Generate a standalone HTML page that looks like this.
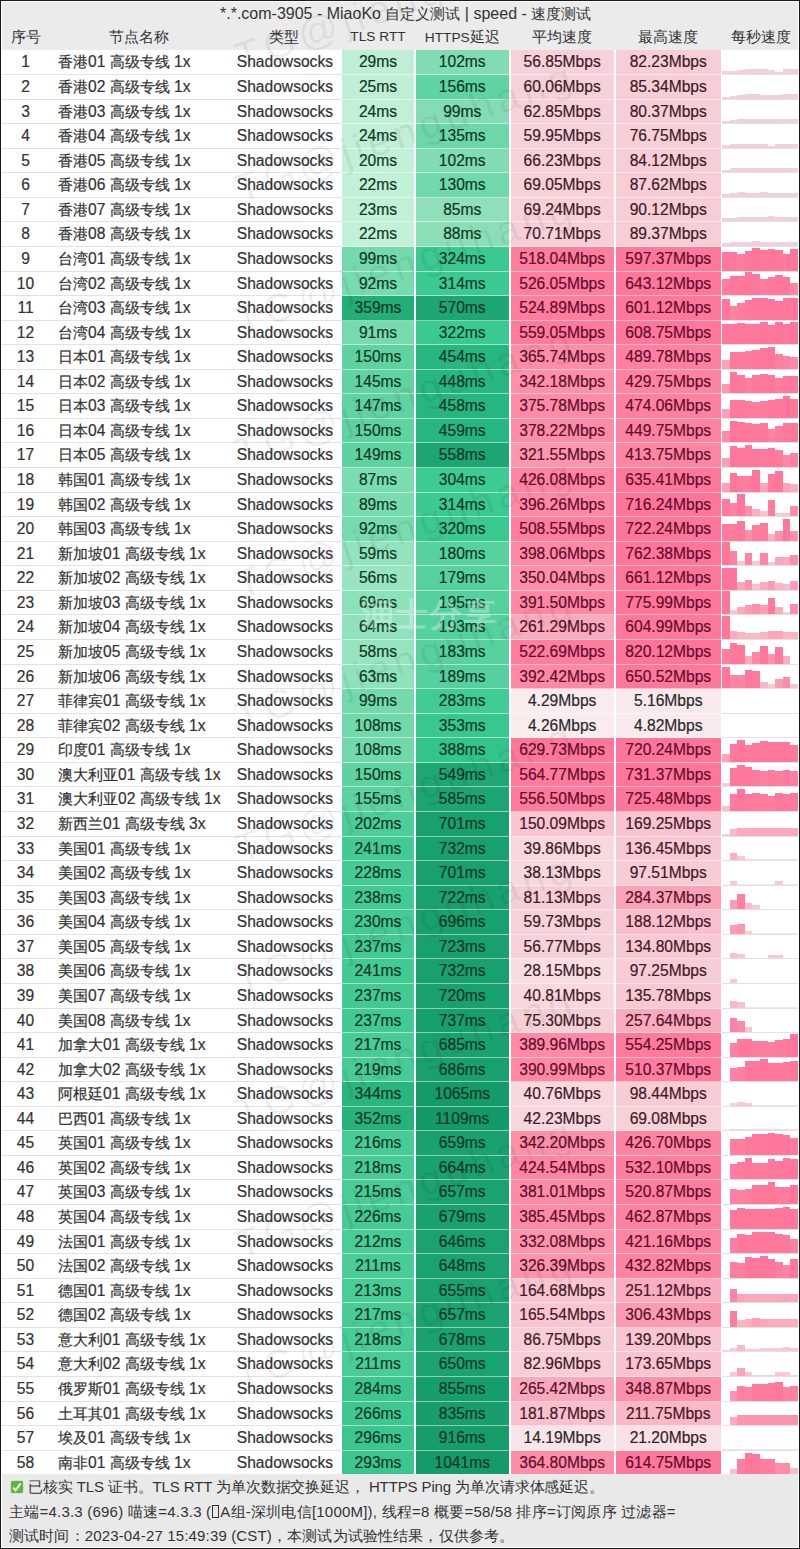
<!DOCTYPE html><html><head><meta charset="utf-8"><style>
*{margin:0;padding:0;box-sizing:border-box}
html,body{width:800px;height:1549px;overflow:hidden;background:#fff}
body{font-family:"Liberation Sans",sans-serif;position:relative;color:#333}
.c{font-size:15.2px}
.cell .c{font-size:14.7px}
.cell.k{height:24.567px;border-bottom:1px solid rgba(255,255,255,.5)}
.b{position:absolute;background:#1a1a1a}
.title{position:absolute;left:1px;top:1px;width:798px;height:24px;border-top:1px solid #fff;background:#ebebeb;font-size:16px;line-height:24px;white-space:nowrap}
.title span.t{position:absolute;left:219px;top:-0.5px}
.title .c{font-size:14.9px}
.hdr{position:absolute;left:1px;top:25px;width:798px;height:25.4px;background:#ebebeb;font-size:13.7px;white-space:nowrap}
.hdr div{position:absolute;top:0;height:24px;line-height:24px;text-align:center}
.cell{-webkit-text-stroke:0.2px currentColor;position:absolute;height:23.567px;line-height:23px;text-align:center;font-size:15.6px;white-space:nowrap}
.name{text-align:left;padding-left:8px}
.type{text-align:right;padding-right:6px}
.sep{position:absolute;height:1px;background:#e2e2e2}
.foot{position:absolute;left:1px;top:1474px;width:798px;height:73.5px;border-bottom:1px solid #fff;background:#e9e9e9;font-size:15px;white-space:nowrap}
.foot div{position:absolute;left:8px;height:24px;line-height:24px}
.box{display:inline-block;width:7px;height:13px;border:1px solid #333;vertical-align:-1px;margin:0 1px}
.chk{position:absolute;left:10px;top:7px;width:12px;height:12px;background:#68ad52;border-radius:1.5px;box-shadow:0 0 0 1px #c9f0b8}
.chk svg{position:absolute;left:0;top:0}
.spark{position:absolute;height:23.567px;overflow:hidden}
.spark i{position:absolute;bottom:0}
.wm{position:absolute;font-size:40px;line-height:40px;letter-spacing:5px;color:rgba(0,0,0,.07);transform-origin:0 100%;transform:rotate(-19deg);white-space:nowrap;pointer-events:none}
</style></head><body>
<div class="title"><span class="t">*.*.com-3905 - MiaoKo <span class="c">自定义测试</span> | speed - <span class="c">速度测试</span></span></div>
<div class="hdr">
<div style="left:0px;width:49px"><span class="c">序号</span></div>
<div style="left:49px;width:178px"><span class="c">节点名称</span></div>
<div style="left:227px;width:111px"><span class="c">类型</span></div>
<div style="left:341px;width:72px">TLS RTT</div>
<div style="left:415px;width:92.5px">HTTPS<span class="c">延迟</span></div>
<div style="left:509.5px;width:103.25px"><span class="c">平均速度</span></div>
<div style="left:615px;width:104.5px"><span class="c">最高速度</span></div>
<div style="left:721px;width:77px"><span class="c">每秒速度</span></div>
</div>
<div class="cell idx" style="left:1px;top:50.40px;width:49px">1</div>
<div class="cell name" style="left:50px;top:50.40px;width:178px"><span class="c">香港</span>01 <span class="c">高级专线</span> 1x</div>
<div class="cell type" style="left:228px;top:50.40px;width:111px">Shadowsocks</div>
<div class="cell k" style="left:342px;top:50.40px;width:72px;background:#beeed5;color:#0f3823">29ms</div>
<div class="cell k" style="left:416px;top:50.40px;width:92.5px;background:#81dcb4;color:#0f3823">102ms</div>
<div class="cell k" style="left:510.5px;top:50.40px;width:103.25px;background:#f7d1d9;color:#3d1b27">56.85Mbps</div>
<div class="cell k" style="left:616px;top:50.40px;width:104.5px;background:#f7ced7;color:#3e1a27">82.23Mbps</div>
<div class="spark" style="left:722px;top:50.40px;width:77px"><i style="left:0.0px;width:7.6px;height:2.5px;background:#efd2d9"></i><i style="left:7.6px;width:7.6px;height:2.5px;background:#efd2d9"></i><i style="left:15.2px;width:7.6px;height:3.5px;background:#efd2d9"></i><i style="left:22.8px;width:7.6px;height:4.5px;background:#efd2d9"></i><i style="left:30.4px;width:7.6px;height:4.5px;background:#efd2d9"></i><i style="left:38.0px;width:7.6px;height:4.5px;background:#efd2d9"></i><i style="left:45.6px;width:7.6px;height:4.0px;background:#efd2d9"></i><i style="left:53.2px;width:7.6px;height:2.0px;background:#efd2d9"></i><i style="left:60.8px;width:7.6px;height:4.5px;background:#efd2d9"></i><i style="left:68.4px;width:7.6px;height:4.5px;background:#efd2d9"></i></div>
<div class="sep" style="left:1px;top:73.97px;width:341px"></div>
<div class="sep" style="left:722px;top:73.97px;width:77px"></div>
<div class="cell idx" style="left:1px;top:74.97px;width:49px">2</div>
<div class="cell name" style="left:50px;top:74.97px;width:178px"><span class="c">香港</span>02 <span class="c">高级专线</span> 1x</div>
<div class="cell type" style="left:228px;top:74.97px;width:111px">Shadowsocks</div>
<div class="cell k" style="left:342px;top:74.97px;width:72px;background:#c0efd7;color:#0f3823">25ms</div>
<div class="cell k" style="left:416px;top:74.97px;width:92.5px;background:#5fd3a3;color:#0f3823">156ms</div>
<div class="cell k" style="left:510.5px;top:74.97px;width:103.25px;background:#f7d1d9;color:#3d1b27">60.06Mbps</div>
<div class="cell k" style="left:616px;top:74.97px;width:104.5px;background:#f7ced6;color:#3e1a27">85.34Mbps</div>
<div class="spark" style="left:722px;top:74.97px;width:77px"><i style="left:0.0px;width:7.6px;height:2.0px;background:#efd2d9"></i><i style="left:7.6px;width:7.6px;height:2.5px;background:#efd2d9"></i><i style="left:15.2px;width:7.6px;height:4.0px;background:#efd2d9"></i><i style="left:22.8px;width:7.6px;height:5.0px;background:#efd2d9"></i><i style="left:30.4px;width:7.6px;height:5.0px;background:#efd2d9"></i><i style="left:38.0px;width:7.6px;height:4.0px;background:#efd2d9"></i><i style="left:45.6px;width:7.6px;height:3.5px;background:#efd2d9"></i><i style="left:53.2px;width:7.6px;height:4.0px;background:#efd2d9"></i><i style="left:60.8px;width:7.6px;height:5.0px;background:#efd2d9"></i><i style="left:68.4px;width:7.6px;height:4.5px;background:#efd2d9"></i></div>
<div class="sep" style="left:1px;top:98.53px;width:341px"></div>
<div class="sep" style="left:722px;top:98.53px;width:77px"></div>
<div class="cell idx" style="left:1px;top:99.53px;width:49px">3</div>
<div class="cell name" style="left:50px;top:99.53px;width:178px"><span class="c">香港</span>03 <span class="c">高级专线</span> 1x</div>
<div class="cell type" style="left:228px;top:99.53px;width:111px">Shadowsocks</div>
<div class="cell k" style="left:342px;top:99.53px;width:72px;background:#c1efd7;color:#0f3823">24ms</div>
<div class="cell k" style="left:416px;top:99.53px;width:92.5px;background:#83dcb5;color:#0f3823">99ms</div>
<div class="cell k" style="left:510.5px;top:99.53px;width:103.25px;background:#f7d0d9;color:#3d1b27">62.85Mbps</div>
<div class="cell k" style="left:616px;top:99.53px;width:104.5px;background:#f7ced7;color:#3e1a27">80.37Mbps</div>
<div class="spark" style="left:722px;top:99.53px;width:77px"><i style="left:0.0px;width:7.6px;height:2.0px;background:#efd2d9"></i><i style="left:7.6px;width:7.6px;height:3.0px;background:#efd2d9"></i><i style="left:15.2px;width:7.6px;height:4.0px;background:#efd2d9"></i><i style="left:22.8px;width:7.6px;height:4.5px;background:#efd2d9"></i><i style="left:30.4px;width:7.6px;height:4.5px;background:#efd2d9"></i><i style="left:38.0px;width:7.6px;height:4.0px;background:#efd2d9"></i><i style="left:45.6px;width:7.6px;height:4.0px;background:#efd2d9"></i><i style="left:53.2px;width:7.6px;height:4.0px;background:#efd2d9"></i><i style="left:60.8px;width:7.6px;height:4.0px;background:#efd2d9"></i><i style="left:68.4px;width:7.6px;height:4.0px;background:#efd2d9"></i></div>
<div class="sep" style="left:1px;top:123.10px;width:341px"></div>
<div class="sep" style="left:722px;top:123.10px;width:77px"></div>
<div class="cell idx" style="left:1px;top:124.10px;width:49px">4</div>
<div class="cell name" style="left:50px;top:124.10px;width:178px"><span class="c">香港</span>04 <span class="c">高级专线</span> 1x</div>
<div class="cell type" style="left:228px;top:124.10px;width:111px">Shadowsocks</div>
<div class="cell k" style="left:342px;top:124.10px;width:72px;background:#c1efd7;color:#0f3823">24ms</div>
<div class="cell k" style="left:416px;top:124.10px;width:92.5px;background:#6dd7ab;color:#0f3823">135ms</div>
<div class="cell k" style="left:510.5px;top:124.10px;width:103.25px;background:#f7d1d9;color:#3d1b27">59.95Mbps</div>
<div class="cell k" style="left:616px;top:124.10px;width:104.5px;background:#f7cfd7;color:#3e1b27">76.75Mbps</div>
<div class="spark" style="left:722px;top:124.10px;width:77px"><i style="left:0.0px;width:7.6px;height:3.0px;background:#efd2d9"></i><i style="left:7.6px;width:7.6px;height:3.5px;background:#efd2d9"></i><i style="left:15.2px;width:7.6px;height:4.0px;background:#efd2d9"></i><i style="left:22.8px;width:7.6px;height:4.0px;background:#efd2d9"></i><i style="left:30.4px;width:7.6px;height:4.0px;background:#efd2d9"></i><i style="left:38.0px;width:7.6px;height:4.0px;background:#efd2d9"></i><i style="left:45.6px;width:7.6px;height:2.0px;background:#efd2d9"></i><i style="left:53.2px;width:7.6px;height:4.0px;background:#efd2d9"></i><i style="left:60.8px;width:7.6px;height:4.0px;background:#efd2d9"></i><i style="left:68.4px;width:7.6px;height:4.0px;background:#efd2d9"></i></div>
<div class="sep" style="left:1px;top:147.67px;width:341px"></div>
<div class="sep" style="left:722px;top:147.67px;width:77px"></div>
<div class="cell idx" style="left:1px;top:148.67px;width:49px">5</div>
<div class="cell name" style="left:50px;top:148.67px;width:178px"><span class="c">香港</span>05 <span class="c">高级专线</span> 1x</div>
<div class="cell type" style="left:228px;top:148.67px;width:111px">Shadowsocks</div>
<div class="cell k" style="left:342px;top:148.67px;width:72px;background:#c3f0d9;color:#0f3823">20ms</div>
<div class="cell k" style="left:416px;top:148.67px;width:92.5px;background:#81dcb4;color:#0f3823">102ms</div>
<div class="cell k" style="left:510.5px;top:148.67px;width:103.25px;background:#f7d0d8;color:#3d1b27">66.23Mbps</div>
<div class="cell k" style="left:616px;top:148.67px;width:104.5px;background:#f7ced7;color:#3e1a27">84.12Mbps</div>
<div class="spark" style="left:722px;top:148.67px;width:77px"><i style="left:0.0px;width:7.6px;height:2.0px;background:#efd2d9"></i><i style="left:7.6px;width:7.6px;height:4.0px;background:#efd2d9"></i><i style="left:15.2px;width:7.6px;height:4.5px;background:#efd2d9"></i><i style="left:22.8px;width:7.6px;height:4.0px;background:#efd2d9"></i><i style="left:30.4px;width:7.6px;height:4.0px;background:#efd2d9"></i><i style="left:38.0px;width:7.6px;height:4.0px;background:#efd2d9"></i><i style="left:45.6px;width:7.6px;height:4.0px;background:#efd2d9"></i><i style="left:53.2px;width:7.6px;height:4.5px;background:#efd2d9"></i><i style="left:60.8px;width:7.6px;height:4.5px;background:#efd2d9"></i><i style="left:68.4px;width:7.6px;height:4.0px;background:#efd2d9"></i></div>
<div class="sep" style="left:1px;top:172.24px;width:341px"></div>
<div class="sep" style="left:722px;top:172.24px;width:77px"></div>
<div class="cell idx" style="left:1px;top:173.24px;width:49px">6</div>
<div class="cell name" style="left:50px;top:173.24px;width:178px"><span class="c">香港</span>06 <span class="c">高级专线</span> 1x</div>
<div class="cell type" style="left:228px;top:173.24px;width:111px">Shadowsocks</div>
<div class="cell k" style="left:342px;top:173.24px;width:72px;background:#c2f0d8;color:#0f3823">22ms</div>
<div class="cell k" style="left:416px;top:173.24px;width:92.5px;background:#70d8ad;color:#0f3823">130ms</div>
<div class="cell k" style="left:510.5px;top:173.24px;width:103.25px;background:#f7d0d8;color:#3d1b27">69.05Mbps</div>
<div class="cell k" style="left:616px;top:173.24px;width:104.5px;background:#f7cdd6;color:#3e1a27">87.62Mbps</div>
<div class="spark" style="left:722px;top:173.24px;width:77px"><i style="left:0.0px;width:7.6px;height:2.5px;background:#efd2d9"></i><i style="left:7.6px;width:7.6px;height:3.5px;background:#efd2d9"></i><i style="left:15.2px;width:7.6px;height:4.5px;background:#efd2d9"></i><i style="left:22.8px;width:7.6px;height:4.0px;background:#efd2d9"></i><i style="left:30.4px;width:7.6px;height:4.0px;background:#efd2d9"></i><i style="left:38.0px;width:7.6px;height:4.5px;background:#efd2d9"></i><i style="left:45.6px;width:7.6px;height:4.0px;background:#efd2d9"></i><i style="left:53.2px;width:7.6px;height:4.0px;background:#efd2d9"></i><i style="left:60.8px;width:7.6px;height:4.0px;background:#efd2d9"></i><i style="left:68.4px;width:7.6px;height:4.0px;background:#efd2d9"></i></div>
<div class="sep" style="left:1px;top:196.80px;width:341px"></div>
<div class="sep" style="left:722px;top:196.80px;width:77px"></div>
<div class="cell idx" style="left:1px;top:197.80px;width:49px">7</div>
<div class="cell name" style="left:50px;top:197.80px;width:178px"><span class="c">香港</span>07 <span class="c">高级专线</span> 1x</div>
<div class="cell type" style="left:228px;top:197.80px;width:111px">Shadowsocks</div>
<div class="cell k" style="left:342px;top:197.80px;width:72px;background:#c1efd8;color:#0f3823">23ms</div>
<div class="cell k" style="left:416px;top:197.80px;width:92.5px;background:#8fdfba;color:#0f3823">85ms</div>
<div class="cell k" style="left:510.5px;top:197.80px;width:103.25px;background:#f7d0d8;color:#3d1b27">69.24Mbps</div>
<div class="cell k" style="left:616px;top:197.80px;width:104.5px;background:#f7cdd6;color:#3e1a27">90.12Mbps</div>
<div class="spark" style="left:722px;top:197.80px;width:77px"><i style="left:0.0px;width:7.6px;height:3.0px;background:#efd2d9"></i><i style="left:7.6px;width:7.6px;height:3.0px;background:#efd2d9"></i><i style="left:15.2px;width:7.6px;height:4.0px;background:#efd2d9"></i><i style="left:22.8px;width:7.6px;height:4.0px;background:#efd2d9"></i><i style="left:30.4px;width:7.6px;height:4.0px;background:#efd2d9"></i><i style="left:38.0px;width:7.6px;height:4.5px;background:#efd2d9"></i><i style="left:45.6px;width:7.6px;height:5.0px;background:#efd2d9"></i><i style="left:53.2px;width:7.6px;height:4.0px;background:#efd2d9"></i><i style="left:60.8px;width:7.6px;height:4.0px;background:#efd2d9"></i><i style="left:68.4px;width:7.6px;height:4.0px;background:#efd2d9"></i></div>
<div class="sep" style="left:1px;top:221.37px;width:341px"></div>
<div class="sep" style="left:722px;top:221.37px;width:77px"></div>
<div class="cell idx" style="left:1px;top:222.37px;width:49px">8</div>
<div class="cell name" style="left:50px;top:222.37px;width:178px"><span class="c">香港</span>08 <span class="c">高级专线</span> 1x</div>
<div class="cell type" style="left:228px;top:222.37px;width:111px">Shadowsocks</div>
<div class="cell k" style="left:342px;top:222.37px;width:72px;background:#c2f0d8;color:#0f3823">22ms</div>
<div class="cell k" style="left:416px;top:222.37px;width:92.5px;background:#8cdeb9;color:#0f3823">88ms</div>
<div class="cell k" style="left:510.5px;top:222.37px;width:103.25px;background:#f7cfd8;color:#3e1b27">70.71Mbps</div>
<div class="cell k" style="left:616px;top:222.37px;width:104.5px;background:#f7cdd6;color:#3e1a27">89.37Mbps</div>
<div class="spark" style="left:722px;top:222.37px;width:77px"><i style="left:0.0px;width:7.6px;height:3.0px;background:#efd2d9"></i><i style="left:7.6px;width:7.6px;height:3.5px;background:#efd2d9"></i><i style="left:15.2px;width:7.6px;height:4.0px;background:#efd2d9"></i><i style="left:22.8px;width:7.6px;height:4.0px;background:#efd2d9"></i><i style="left:30.4px;width:7.6px;height:4.5px;background:#efd2d9"></i><i style="left:38.0px;width:7.6px;height:4.0px;background:#efd2d9"></i><i style="left:45.6px;width:7.6px;height:4.0px;background:#efd2d9"></i><i style="left:53.2px;width:7.6px;height:4.0px;background:#efd2d9"></i><i style="left:60.8px;width:7.6px;height:4.0px;background:#efd2d9"></i><i style="left:68.4px;width:7.6px;height:4.0px;background:#efd2d9"></i></div>
<div class="sep" style="left:1px;top:245.94px;width:341px"></div>
<div class="sep" style="left:722px;top:245.94px;width:77px"></div>
<div class="cell idx" style="left:1px;top:246.94px;width:49px">9</div>
<div class="cell name" style="left:50px;top:246.94px;width:178px"><span class="c">台湾</span>01 <span class="c">高级专线</span> 1x</div>
<div class="cell type" style="left:228px;top:246.94px;width:111px">Shadowsocks</div>
<div class="cell k" style="left:342px;top:246.94px;width:72px;background:#74daae;color:#0f3823">99ms</div>
<div class="cell k" style="left:416px;top:246.94px;width:92.5px;background:#3ac992;color:#0f3823">324ms</div>
<div class="cell k" style="left:510.5px;top:246.94px;width:103.25px;background:#ff7e9e;color:#620c2e">518.04Mbps</div>
<div class="cell k" style="left:616px;top:246.94px;width:104.5px;background:#ff789b;color:#620c2e">597.37Mbps</div>
<div class="spark" style="left:722px;top:246.94px;width:77px"><i style="left:0.0px;width:7.6px;height:18.7px;background:#ff789b"></i><i style="left:7.6px;width:7.6px;height:18.2px;background:#ff789b"></i><i style="left:15.2px;width:7.6px;height:16.2px;background:#ff7d9e"></i><i style="left:22.8px;width:7.6px;height:19.7px;background:#ff779b"></i><i style="left:30.4px;width:7.6px;height:22.9px;background:#ff769a"></i><i style="left:38.0px;width:7.6px;height:20.2px;background:#ff779a"></i><i style="left:45.6px;width:7.6px;height:21.5px;background:#ff769a"></i><i style="left:53.2px;width:7.6px;height:20.7px;background:#ff779a"></i><i style="left:60.8px;width:7.6px;height:16.7px;background:#ff7b9d"></i><i style="left:68.4px;width:7.6px;height:21.5px;background:#ff769a"></i></div>
<div class="sep" style="left:1px;top:270.50px;width:341px"></div>
<div class="sep" style="left:722px;top:270.50px;width:77px"></div>
<div class="cell idx" style="left:1px;top:271.50px;width:49px">10</div>
<div class="cell name" style="left:50px;top:271.50px;width:178px"><span class="c">台湾</span>02 <span class="c">高级专线</span> 1x</div>
<div class="cell type" style="left:228px;top:271.50px;width:111px">Shadowsocks</div>
<div class="cell k" style="left:342px;top:271.50px;width:72px;background:#77dbb0;color:#0f3823">92ms</div>
<div class="cell k" style="left:416px;top:271.50px;width:92.5px;background:#3bca93;color:#0f3823">314ms</div>
<div class="cell k" style="left:510.5px;top:271.50px;width:103.25px;background:#ff7d9e;color:#620c2e">526.05Mbps</div>
<div class="cell k" style="left:616px;top:271.50px;width:104.5px;background:#ff779b;color:#620c2e">643.12Mbps</div>
<div class="spark" style="left:722px;top:271.50px;width:77px"><i style="left:0.0px;width:7.6px;height:15.7px;background:#ff7e9e"></i><i style="left:7.6px;width:7.6px;height:18.7px;background:#ff789b"></i><i style="left:15.2px;width:7.6px;height:18.7px;background:#ff789b"></i><i style="left:22.8px;width:7.6px;height:22.7px;background:#ff769a"></i><i style="left:30.4px;width:7.6px;height:20.7px;background:#ff779a"></i><i style="left:38.0px;width:7.6px;height:16.2px;background:#ff7d9e"></i><i style="left:45.6px;width:7.6px;height:17.7px;background:#ff799c"></i><i style="left:53.2px;width:7.6px;height:20.2px;background:#ff779a"></i><i style="left:60.8px;width:7.6px;height:18.2px;background:#ff789b"></i><i style="left:68.4px;width:7.6px;height:12.2px;background:#ff88a4"></i></div>
<div class="sep" style="left:1px;top:295.07px;width:341px"></div>
<div class="sep" style="left:722px;top:295.07px;width:77px"></div>
<div class="cell idx" style="left:1px;top:296.07px;width:49px">11</div>
<div class="cell name" style="left:50px;top:296.07px;width:178px"><span class="c">台湾</span>03 <span class="c">高级专线</span> 1x</div>
<div class="cell type" style="left:228px;top:296.07px;width:111px">Shadowsocks</div>
<div class="cell k" style="left:342px;top:296.07px;width:72px;background:#22ad79;color:#0f3823">359ms</div>
<div class="cell k" style="left:416px;top:296.07px;width:92.5px;background:#1da574;color:#0f3823">570ms</div>
<div class="cell k" style="left:510.5px;top:296.07px;width:103.25px;background:#ff7d9e;color:#620c2e">524.89Mbps</div>
<div class="cell k" style="left:616px;top:296.07px;width:104.5px;background:#ff789b;color:#620c2e">601.12Mbps</div>
<div class="spark" style="left:722px;top:296.07px;width:77px"><i style="left:0.0px;width:7.6px;height:20.3px;background:#ff779a"></i><i style="left:7.6px;width:7.6px;height:13.8px;background:#ff82a1"></i><i style="left:15.2px;width:7.6px;height:16.3px;background:#ff7c9e"></i><i style="left:22.8px;width:7.6px;height:19.3px;background:#ff779b"></i><i style="left:30.4px;width:7.6px;height:21.3px;background:#ff779a"></i><i style="left:38.0px;width:7.6px;height:21.3px;background:#ff779a"></i><i style="left:45.6px;width:7.6px;height:21.0px;background:#ff779a"></i><i style="left:53.2px;width:7.6px;height:18.3px;background:#ff789b"></i><i style="left:60.8px;width:7.6px;height:21.3px;background:#ff779a"></i><i style="left:68.4px;width:7.6px;height:22.0px;background:#ff769a"></i></div>
<div class="sep" style="left:1px;top:319.64px;width:341px"></div>
<div class="sep" style="left:722px;top:319.64px;width:77px"></div>
<div class="cell idx" style="left:1px;top:320.64px;width:49px">12</div>
<div class="cell name" style="left:50px;top:320.64px;width:178px"><span class="c">台湾</span>04 <span class="c">高级专线</span> 1x</div>
<div class="cell type" style="left:228px;top:320.64px;width:111px">Shadowsocks</div>
<div class="cell k" style="left:342px;top:320.64px;width:72px;background:#78dbb0;color:#0f3823">91ms</div>
<div class="cell k" style="left:416px;top:320.64px;width:92.5px;background:#3bc992;color:#0f3823">322ms</div>
<div class="cell k" style="left:510.5px;top:320.64px;width:103.25px;background:#ff7b9d;color:#620c2e">559.05Mbps</div>
<div class="cell k" style="left:616px;top:320.64px;width:104.5px;background:#ff789b;color:#620c2e">608.75Mbps</div>
<div class="spark" style="left:722px;top:320.64px;width:77px"><i style="left:0.0px;width:7.6px;height:20.3px;background:#ff779a"></i><i style="left:7.6px;width:7.6px;height:20.1px;background:#ff779a"></i><i style="left:15.2px;width:7.6px;height:21.3px;background:#ff779a"></i><i style="left:22.8px;width:7.6px;height:20.1px;background:#ff779a"></i><i style="left:30.4px;width:7.6px;height:20.3px;background:#ff779a"></i><i style="left:38.0px;width:7.6px;height:22.3px;background:#ff769a"></i><i style="left:45.6px;width:7.6px;height:19.3px;background:#ff779b"></i><i style="left:53.2px;width:7.6px;height:22.3px;background:#ff769a"></i><i style="left:60.8px;width:7.6px;height:20.1px;background:#ff779a"></i><i style="left:68.4px;width:7.6px;height:21.8px;background:#ff769a"></i></div>
<div class="sep" style="left:1px;top:344.20px;width:341px"></div>
<div class="sep" style="left:722px;top:344.20px;width:77px"></div>
<div class="cell idx" style="left:1px;top:345.20px;width:49px">13</div>
<div class="cell name" style="left:50px;top:345.20px;width:178px"><span class="c">日本</span>01 <span class="c">高级专线</span> 1x</div>
<div class="cell type" style="left:228px;top:345.20px;width:111px">Shadowsocks</div>
<div class="cell k" style="left:342px;top:345.20px;width:72px;background:#5fd2a2;color:#0f3823">150ms</div>
<div class="cell k" style="left:416px;top:345.20px;width:92.5px;background:#27b681;color:#0f3823">454ms</div>
<div class="cell k" style="left:510.5px;top:345.20px;width:103.25px;background:#fe8da8;color:#5b0f2d">365.74Mbps</div>
<div class="cell k" style="left:616px;top:345.20px;width:104.5px;background:#ff80a0;color:#610d2e">489.78Mbps</div>
<div class="spark" style="left:722px;top:345.20px;width:77px"><i style="left:0.0px;width:7.6px;height:8.5px;background:#fca3b8"></i><i style="left:7.6px;width:7.6px;height:17.0px;background:#ff7b9d"></i><i style="left:15.2px;width:7.6px;height:17.0px;background:#ff7b9d"></i><i style="left:22.8px;width:7.6px;height:17.5px;background:#ff7a9c"></i><i style="left:30.4px;width:7.6px;height:18.5px;background:#ff789b"></i><i style="left:38.0px;width:7.6px;height:21.0px;background:#ff779a"></i><i style="left:45.6px;width:7.6px;height:22.0px;background:#ff769a"></i><i style="left:53.2px;width:7.6px;height:15.0px;background:#ff7f9f"></i><i style="left:60.8px;width:7.6px;height:13.0px;background:#ff84a2"></i><i style="left:68.4px;width:7.6px;height:11.5px;background:#fe8ba6"></i></div>
<div class="sep" style="left:1px;top:368.77px;width:341px"></div>
<div class="sep" style="left:722px;top:368.77px;width:77px"></div>
<div class="cell idx" style="left:1px;top:369.77px;width:49px">14</div>
<div class="cell name" style="left:50px;top:369.77px;width:178px"><span class="c">日本</span>02 <span class="c">高级专线</span> 1x</div>
<div class="cell type" style="left:228px;top:369.77px;width:111px">Shadowsocks</div>
<div class="cell k" style="left:342px;top:369.77px;width:72px;background:#61d3a3;color:#0f3823">145ms</div>
<div class="cell k" style="left:416px;top:369.77px;width:92.5px;background:#27b782;color:#0f3823">448ms</div>
<div class="cell k" style="left:510.5px;top:369.77px;width:103.25px;background:#fe90aa;color:#5a0f2c">342.18Mbps</div>
<div class="cell k" style="left:616px;top:369.77px;width:104.5px;background:#ff84a2;color:#5f0d2d">429.75Mbps</div>
<div class="spark" style="left:722px;top:369.77px;width:77px"><i style="left:0.0px;width:7.6px;height:9.6px;background:#fd97af"></i><i style="left:7.6px;width:7.6px;height:21.6px;background:#ff769a"></i><i style="left:15.2px;width:7.6px;height:18.0px;background:#ff789b"></i><i style="left:22.8px;width:7.6px;height:15.0px;background:#ff7f9f"></i><i style="left:30.4px;width:7.6px;height:18.6px;background:#ff789b"></i><i style="left:38.0px;width:7.6px;height:19.6px;background:#ff779b"></i><i style="left:45.6px;width:7.6px;height:18.6px;background:#ff789b"></i><i style="left:53.2px;width:7.6px;height:15.0px;background:#ff7f9f"></i><i style="left:60.8px;width:7.6px;height:17.6px;background:#ff799c"></i><i style="left:68.4px;width:7.6px;height:17.6px;background:#ff799c"></i></div>
<div class="sep" style="left:1px;top:393.34px;width:341px"></div>
<div class="sep" style="left:722px;top:393.34px;width:77px"></div>
<div class="cell idx" style="left:1px;top:394.34px;width:49px">15</div>
<div class="cell name" style="left:50px;top:394.34px;width:178px"><span class="c">日本</span>03 <span class="c">高级专线</span> 1x</div>
<div class="cell type" style="left:228px;top:394.34px;width:111px">Shadowsocks</div>
<div class="cell k" style="left:342px;top:394.34px;width:72px;background:#60d2a3;color:#0f3823">147ms</div>
<div class="cell k" style="left:416px;top:394.34px;width:92.5px;background:#26b681;color:#0f3823">458ms</div>
<div class="cell k" style="left:510.5px;top:394.34px;width:103.25px;background:#fe8ba7;color:#5c0e2d">375.78Mbps</div>
<div class="cell k" style="left:616px;top:394.34px;width:104.5px;background:#ff81a0;color:#600d2e">474.06Mbps</div>
<div class="spark" style="left:722px;top:394.34px;width:77px"><i style="left:0.0px;width:7.6px;height:8.7px;background:#fca1b6"></i><i style="left:7.6px;width:7.6px;height:18.2px;background:#ff789b"></i><i style="left:15.2px;width:7.6px;height:18.2px;background:#ff789b"></i><i style="left:22.8px;width:7.6px;height:16.7px;background:#ff7b9d"></i><i style="left:30.4px;width:7.6px;height:16.2px;background:#ff7d9e"></i><i style="left:38.0px;width:7.6px;height:16.7px;background:#ff7b9d"></i><i style="left:45.6px;width:7.6px;height:18.2px;background:#ff789b"></i><i style="left:53.2px;width:7.6px;height:19.2px;background:#ff789b"></i><i style="left:60.8px;width:7.6px;height:22.2px;background:#ff769a"></i><i style="left:68.4px;width:7.6px;height:18.7px;background:#ff789b"></i></div>
<div class="sep" style="left:1px;top:417.90px;width:341px"></div>
<div class="sep" style="left:722px;top:417.90px;width:77px"></div>
<div class="cell idx" style="left:1px;top:418.90px;width:49px">16</div>
<div class="cell name" style="left:50px;top:418.90px;width:178px"><span class="c">日本</span>04 <span class="c">高级专线</span> 1x</div>
<div class="cell type" style="left:228px;top:418.90px;width:111px">Shadowsocks</div>
<div class="cell k" style="left:342px;top:418.90px;width:72px;background:#5fd2a2;color:#0f3823">150ms</div>
<div class="cell k" style="left:416px;top:418.90px;width:92.5px;background:#26b681;color:#0f3823">459ms</div>
<div class="cell k" style="left:510.5px;top:418.90px;width:103.25px;background:#fe8ba7;color:#5c0e2d">378.22Mbps</div>
<div class="cell k" style="left:616px;top:418.90px;width:104.5px;background:#ff83a1;color:#5f0d2d">449.75Mbps</div>
<div class="spark" style="left:722px;top:418.90px;width:77px"><i style="left:0.0px;width:7.6px;height:11.2px;background:#fe8ca7"></i><i style="left:7.6px;width:7.6px;height:21.7px;background:#ff769a"></i><i style="left:15.2px;width:7.6px;height:20.7px;background:#ff779a"></i><i style="left:22.8px;width:7.6px;height:19.7px;background:#ff779b"></i><i style="left:30.4px;width:7.6px;height:18.7px;background:#ff789b"></i><i style="left:38.0px;width:7.6px;height:19.7px;background:#ff779b"></i><i style="left:45.6px;width:7.6px;height:13.2px;background:#ff84a2"></i><i style="left:53.2px;width:7.6px;height:16.2px;background:#ff7d9e"></i><i style="left:60.8px;width:7.6px;height:19.2px;background:#ff789b"></i><i style="left:68.4px;width:7.6px;height:19.2px;background:#ff789b"></i></div>
<div class="sep" style="left:1px;top:442.47px;width:341px"></div>
<div class="sep" style="left:722px;top:442.47px;width:77px"></div>
<div class="cell idx" style="left:1px;top:443.47px;width:49px">17</div>
<div class="cell name" style="left:50px;top:443.47px;width:178px"><span class="c">日本</span>05 <span class="c">高级专线</span> 1x</div>
<div class="cell type" style="left:228px;top:443.47px;width:111px">Shadowsocks</div>
<div class="cell k" style="left:342px;top:443.47px;width:72px;background:#5fd2a2;color:#0f3823">149ms</div>
<div class="cell k" style="left:416px;top:443.47px;width:92.5px;background:#1da574;color:#0f3823">558ms</div>
<div class="cell k" style="left:510.5px;top:443.47px;width:103.25px;background:#fd96ae;color:#57102c">321.55Mbps</div>
<div class="cell k" style="left:616px;top:443.47px;width:104.5px;background:#ff86a3;color:#5e0e2d">413.75Mbps</div>
<div class="spark" style="left:722px;top:443.47px;width:77px"><i style="left:0.0px;width:7.6px;height:8.8px;background:#fca0b6"></i><i style="left:7.6px;width:7.6px;height:20.8px;background:#ff779a"></i><i style="left:15.2px;width:7.6px;height:18.8px;background:#ff789b"></i><i style="left:22.8px;width:7.6px;height:22.3px;background:#ff769a"></i><i style="left:30.4px;width:7.6px;height:18.3px;background:#ff789b"></i><i style="left:38.0px;width:7.6px;height:17.8px;background:#ff799b"></i><i style="left:45.6px;width:7.6px;height:18.8px;background:#ff789b"></i><i style="left:53.2px;width:7.6px;height:16.8px;background:#ff7b9d"></i><i style="left:60.8px;width:7.6px;height:11.8px;background:#ff89a6"></i><i style="left:68.4px;width:7.6px;height:13.8px;background:#ff82a1"></i></div>
<div class="sep" style="left:1px;top:467.04px;width:341px"></div>
<div class="sep" style="left:722px;top:467.04px;width:77px"></div>
<div class="cell idx" style="left:1px;top:468.04px;width:49px">18</div>
<div class="cell name" style="left:50px;top:468.04px;width:178px"><span class="c">韩国</span>01 <span class="c">高级专线</span> 1x</div>
<div class="cell type" style="left:228px;top:468.04px;width:111px">Shadowsocks</div>
<div class="cell k" style="left:342px;top:468.04px;width:72px;background:#7bdcb2;color:#0f3823">87ms</div>
<div class="cell k" style="left:416px;top:468.04px;width:92.5px;background:#3dcb94;color:#0f3823">304ms</div>
<div class="cell k" style="left:510.5px;top:468.04px;width:103.25px;background:#ff85a2;color:#5e0d2d">426.08Mbps</div>
<div class="cell k" style="left:616px;top:468.04px;width:104.5px;background:#ff789b;color:#620c2e">635.41Mbps</div>
<div class="spark" style="left:722px;top:468.04px;width:77px"><i style="left:0.0px;width:7.6px;height:8.8px;background:#fca0b6"></i><i style="left:7.6px;width:7.6px;height:18.3px;background:#ff789b"></i><i style="left:15.2px;width:7.6px;height:15.8px;background:#ff7d9e"></i><i style="left:22.8px;width:7.6px;height:15.3px;background:#ff7f9f"></i><i style="left:30.4px;width:7.6px;height:21.8px;background:#ff769a"></i><i style="left:38.0px;width:7.6px;height:8.3px;background:#fca5ba"></i><i style="left:45.6px;width:7.6px;height:17.3px;background:#ff7a9c"></i><i style="left:53.2px;width:7.6px;height:20.8px;background:#ff779a"></i><i style="left:60.8px;width:7.6px;height:8.3px;background:#fca5ba"></i><i style="left:68.4px;width:7.6px;height:7.3px;background:#fbafc1"></i></div>
<div class="sep" style="left:1px;top:491.61px;width:341px"></div>
<div class="sep" style="left:722px;top:491.61px;width:77px"></div>
<div class="cell idx" style="left:1px;top:492.61px;width:49px">19</div>
<div class="cell name" style="left:50px;top:492.61px;width:178px"><span class="c">韩国</span>02 <span class="c">高级专线</span> 1x</div>
<div class="cell type" style="left:228px;top:492.61px;width:111px">Shadowsocks</div>
<div class="cell k" style="left:342px;top:492.61px;width:72px;background:#79dbb0;color:#0f3823">89ms</div>
<div class="cell k" style="left:416px;top:492.61px;width:92.5px;background:#3bca93;color:#0f3823">314ms</div>
<div class="cell k" style="left:510.5px;top:492.61px;width:103.25px;background:#ff88a5;color:#5d0e2d">396.26Mbps</div>
<div class="cell k" style="left:616px;top:492.61px;width:104.5px;background:#ff769a;color:#620c2e">716.24Mbps</div>
<div class="spark" style="left:722px;top:492.61px;width:77px"><i style="left:0.0px;width:7.6px;height:17.0px;background:#ff7b9d"></i><i style="left:7.6px;width:7.6px;height:13.5px;background:#ff83a1"></i><i style="left:15.2px;width:7.6px;height:22.0px;background:#ff769a"></i><i style="left:22.8px;width:7.6px;height:10.5px;background:#fe8fa9"></i><i style="left:30.4px;width:7.6px;height:7.5px;background:#fbaec0"></i><i style="left:38.0px;width:7.6px;height:5.5px;background:#f9c1ce"></i><i style="left:45.6px;width:7.6px;height:16.5px;background:#ff7c9d"></i><i style="left:53.2px;width:7.6px;height:3.5px;background:#f8cad4"></i><i style="left:60.8px;width:7.6px;height:3.5px;background:#f8cad4"></i><i style="left:68.4px;width:7.6px;height:10.5px;background:#fe8fa9"></i></div>
<div class="sep" style="left:1px;top:516.17px;width:341px"></div>
<div class="sep" style="left:722px;top:516.17px;width:77px"></div>
<div class="cell idx" style="left:1px;top:517.17px;width:49px">20</div>
<div class="cell name" style="left:50px;top:517.17px;width:178px"><span class="c">韩国</span>03 <span class="c">高级专线</span> 1x</div>
<div class="cell type" style="left:228px;top:517.17px;width:111px">Shadowsocks</div>
<div class="cell k" style="left:342px;top:517.17px;width:72px;background:#77dbb0;color:#0f3823">92ms</div>
<div class="cell k" style="left:416px;top:517.17px;width:92.5px;background:#3bc992;color:#0f3823">320ms</div>
<div class="cell k" style="left:510.5px;top:517.17px;width:103.25px;background:#ff7e9f;color:#620c2e">508.55Mbps</div>
<div class="cell k" style="left:616px;top:517.17px;width:104.5px;background:#ff769a;color:#620c2e">722.24Mbps</div>
<div class="spark" style="left:722px;top:517.17px;width:77px"><i style="left:0.0px;width:7.6px;height:17.1px;background:#ff7a9c"></i><i style="left:7.6px;width:7.6px;height:16.6px;background:#ff7c9d"></i><i style="left:15.2px;width:7.6px;height:19.6px;background:#ff779b"></i><i style="left:22.8px;width:7.6px;height:10.6px;background:#fe8fa9"></i><i style="left:30.4px;width:7.6px;height:15.6px;background:#ff7e9e"></i><i style="left:38.0px;width:7.6px;height:17.6px;background:#ff799c"></i><i style="left:45.6px;width:7.6px;height:7.1px;background:#fab1c2"></i><i style="left:53.2px;width:7.6px;height:10.1px;background:#fe92ab"></i><i style="left:60.8px;width:7.6px;height:21.6px;background:#ff769a"></i><i style="left:68.4px;width:7.6px;height:10.1px;background:#fe92ab"></i></div>
<div class="sep" style="left:1px;top:540.74px;width:341px"></div>
<div class="sep" style="left:722px;top:540.74px;width:77px"></div>
<div class="cell idx" style="left:1px;top:541.74px;width:49px">21</div>
<div class="cell name" style="left:50px;top:541.74px;width:178px"><span class="c">新加坡</span>01 <span class="c">高级专线</span> 1x</div>
<div class="cell type" style="left:228px;top:541.74px;width:111px">Shadowsocks</div>
<div class="cell k" style="left:342px;top:541.74px;width:72px;background:#94e3c0;color:#0f3823">59ms</div>
<div class="cell k" style="left:416px;top:541.74px;width:92.5px;background:#58d1a0;color:#0f3823">180ms</div>
<div class="cell k" style="left:510.5px;top:541.74px;width:103.25px;background:#ff88a5;color:#5d0e2d">398.06Mbps</div>
<div class="cell k" style="left:616px;top:541.74px;width:104.5px;background:#ff769a;color:#620c2e">762.38Mbps</div>
<div class="spark" style="left:722px;top:541.74px;width:77px"><i style="left:0.0px;width:7.6px;height:23.0px;background:#ff769a"></i><i style="left:7.6px;width:7.6px;height:14.2px;background:#ff81a0"></i><i style="left:15.2px;width:7.6px;height:4.7px;background:#f9c6d1"></i><i style="left:22.8px;width:7.6px;height:12.7px;background:#ff85a3"></i><i style="left:30.4px;width:7.6px;height:4.7px;background:#f9c6d1"></i><i style="left:38.0px;width:7.6px;height:12.7px;background:#ff85a3"></i><i style="left:45.6px;width:7.6px;height:3.7px;background:#f8c9d4"></i><i style="left:53.2px;width:7.6px;height:8.2px;background:#fba6ba"></i><i style="left:60.8px;width:7.6px;height:7.9px;background:#fbaabd"></i><i style="left:68.4px;width:7.6px;height:10.7px;background:#fe8ea9"></i></div>
<div class="sep" style="left:1px;top:565.31px;width:341px"></div>
<div class="sep" style="left:722px;top:565.31px;width:77px"></div>
<div class="cell idx" style="left:1px;top:566.31px;width:49px">22</div>
<div class="cell name" style="left:50px;top:566.31px;width:178px"><span class="c">新加坡</span>02 <span class="c">高级专线</span> 1x</div>
<div class="cell type" style="left:228px;top:566.31px;width:111px">Shadowsocks</div>
<div class="cell k" style="left:342px;top:566.31px;width:72px;background:#99e4c2;color:#0f3823">56ms</div>
<div class="cell k" style="left:416px;top:566.31px;width:92.5px;background:#58d1a0;color:#0f3823">179ms</div>
<div class="cell k" style="left:510.5px;top:566.31px;width:103.25px;background:#fe8fa9;color:#5a0f2c">350.04Mbps</div>
<div class="cell k" style="left:616px;top:566.31px;width:104.5px;background:#ff779a;color:#620c2e">661.12Mbps</div>
<div class="spark" style="left:722px;top:566.31px;width:77px"><i style="left:0.0px;width:7.6px;height:21.7px;background:#ff769a"></i><i style="left:7.6px;width:7.6px;height:21.7px;background:#ff769a"></i><i style="left:15.2px;width:7.6px;height:8.2px;background:#fba6ba"></i><i style="left:22.8px;width:7.6px;height:10.2px;background:#fe91ab"></i><i style="left:30.4px;width:7.6px;height:5.7px;background:#f9bfcc"></i><i style="left:38.0px;width:7.6px;height:7.7px;background:#fbacbe"></i><i style="left:45.6px;width:7.6px;height:9.2px;background:#fd9cb3"></i><i style="left:53.2px;width:7.6px;height:6.7px;background:#fab5c5"></i><i style="left:60.8px;width:7.6px;height:6.2px;background:#fabac9"></i><i style="left:68.4px;width:7.6px;height:9.2px;background:#fd9cb3"></i></div>
<div class="sep" style="left:1px;top:589.87px;width:341px"></div>
<div class="sep" style="left:722px;top:589.87px;width:77px"></div>
<div class="cell idx" style="left:1px;top:590.87px;width:49px">23</div>
<div class="cell name" style="left:50px;top:590.87px;width:178px"><span class="c">新加坡</span>03 <span class="c">高级专线</span> 1x</div>
<div class="cell type" style="left:228px;top:590.87px;width:111px">Shadowsocks</div>
<div class="cell k" style="left:342px;top:590.87px;width:72px;background:#8be1ba;color:#0f3823">69ms</div>
<div class="cell k" style="left:416px;top:590.87px;width:92.5px;background:#55d09f;color:#0f3823">195ms</div>
<div class="cell k" style="left:510.5px;top:590.87px;width:103.25px;background:#ff89a5;color:#5d0e2d">391.50Mbps</div>
<div class="cell k" style="left:616px;top:590.87px;width:104.5px;background:#ff7699;color:#620c2e">775.99Mbps</div>
<div class="spark" style="left:722px;top:590.87px;width:77px"><i style="left:0.0px;width:7.6px;height:23.0px;background:#ff769a"></i><i style="left:7.6px;width:7.6px;height:4.3px;background:#f8c7d2"></i><i style="left:15.2px;width:7.6px;height:7.8px;background:#fbabbd"></i><i style="left:22.8px;width:7.6px;height:9.3px;background:#fd9bb2"></i><i style="left:30.4px;width:7.6px;height:10.3px;background:#fe90aa"></i><i style="left:38.0px;width:7.6px;height:9.3px;background:#fd9bb2"></i><i style="left:45.6px;width:7.6px;height:16.8px;background:#ff7b9d"></i><i style="left:53.2px;width:7.6px;height:7.8px;background:#fbabbd"></i><i style="left:60.8px;width:7.6px;height:2.3px;background:#f7cfd7"></i><i style="left:68.4px;width:7.6px;height:10.8px;background:#fe8ea9"></i></div>
<div class="sep" style="left:1px;top:614.44px;width:341px"></div>
<div class="sep" style="left:722px;top:614.44px;width:77px"></div>
<div class="cell idx" style="left:1px;top:615.44px;width:49px">24</div>
<div class="cell name" style="left:50px;top:615.44px;width:178px"><span class="c">新加坡</span>04 <span class="c">高级专线</span> 1x</div>
<div class="cell type" style="left:228px;top:615.44px;width:111px">Shadowsocks</div>
<div class="cell k" style="left:342px;top:615.44px;width:72px;background:#8fe2bd;color:#0f3823">64ms</div>
<div class="cell k" style="left:416px;top:615.44px;width:92.5px;background:#55d09f;color:#0f3823">193ms</div>
<div class="cell k" style="left:510.5px;top:615.44px;width:103.25px;background:#fbaabd;color:#4e142a">261.29Mbps</div>
<div class="cell k" style="left:616px;top:615.44px;width:104.5px;background:#ff789b;color:#620c2e">604.99Mbps</div>
<div class="spark" style="left:722px;top:615.44px;width:77px"><i style="left:0.0px;width:7.6px;height:23.0px;background:#ff769a"></i><i style="left:7.6px;width:7.6px;height:7.8px;background:#fbabbd"></i><i style="left:15.2px;width:7.6px;height:6.8px;background:#fab4c4"></i><i style="left:22.8px;width:7.6px;height:6.3px;background:#fab9c8"></i><i style="left:30.4px;width:7.6px;height:6.3px;background:#fab9c8"></i><i style="left:38.0px;width:7.6px;height:6.8px;background:#fab4c4"></i><i style="left:45.6px;width:7.6px;height:8.3px;background:#fca5ba"></i><i style="left:53.2px;width:7.6px;height:8.3px;background:#fca5ba"></i><i style="left:60.8px;width:7.6px;height:6.8px;background:#fab4c4"></i><i style="left:68.4px;width:7.6px;height:6.8px;background:#fab4c4"></i></div>
<div class="sep" style="left:1px;top:639.01px;width:341px"></div>
<div class="sep" style="left:722px;top:639.01px;width:77px"></div>
<div class="cell idx" style="left:1px;top:640.01px;width:49px">25</div>
<div class="cell name" style="left:50px;top:640.01px;width:178px"><span class="c">新加坡</span>05 <span class="c">高级专线</span> 1x</div>
<div class="cell type" style="left:228px;top:640.01px;width:111px">Shadowsocks</div>
<div class="cell k" style="left:342px;top:640.01px;width:72px;background:#96e4c0;color:#0f3823">58ms</div>
<div class="cell k" style="left:416px;top:640.01px;width:92.5px;background:#57d1a0;color:#0f3823">183ms</div>
<div class="cell k" style="left:510.5px;top:640.01px;width:103.25px;background:#ff7d9e;color:#620c2e">522.69Mbps</div>
<div class="cell k" style="left:616px;top:640.01px;width:104.5px;background:#ff7599;color:#620c2e">820.12Mbps</div>
<div class="spark" style="left:722px;top:640.01px;width:77px"><i style="left:0.0px;width:7.6px;height:15.0px;background:#ff7f9f"></i><i style="left:7.6px;width:7.6px;height:21.0px;background:#ff779a"></i><i style="left:15.2px;width:7.6px;height:18.5px;background:#ff789b"></i><i style="left:22.8px;width:7.6px;height:8.0px;background:#fba9bc"></i><i style="left:30.4px;width:7.6px;height:12.0px;background:#ff88a5"></i><i style="left:38.0px;width:7.6px;height:18.0px;background:#ff789b"></i><i style="left:45.6px;width:7.6px;height:10.0px;background:#fe93ac"></i><i style="left:53.2px;width:7.6px;height:17.0px;background:#ff7b9d"></i><i style="left:60.8px;width:7.6px;height:7.5px;background:#fbaec0"></i></div>
<div class="sep" style="left:1px;top:663.57px;width:341px"></div>
<div class="sep" style="left:722px;top:663.57px;width:77px"></div>
<div class="cell idx" style="left:1px;top:664.57px;width:49px">26</div>
<div class="cell name" style="left:50px;top:664.57px;width:178px"><span class="c">新加坡</span>06 <span class="c">高级专线</span> 1x</div>
<div class="cell type" style="left:228px;top:664.57px;width:111px">Shadowsocks</div>
<div class="cell k" style="left:342px;top:664.57px;width:72px;background:#90e2be;color:#0f3823">63ms</div>
<div class="cell k" style="left:416px;top:664.57px;width:92.5px;background:#56d0a0;color:#0f3823">189ms</div>
<div class="cell k" style="left:510.5px;top:664.57px;width:103.25px;background:#ff89a5;color:#5d0e2d">392.42Mbps</div>
<div class="cell k" style="left:616px;top:664.57px;width:104.5px;background:#ff779b;color:#620c2e">650.52Mbps</div>
<div class="spark" style="left:722px;top:664.57px;width:77px"><i style="left:0.0px;width:7.6px;height:21.1px;background:#ff779a"></i><i style="left:7.6px;width:7.6px;height:13.1px;background:#ff84a2"></i><i style="left:15.2px;width:7.6px;height:13.1px;background:#ff84a2"></i><i style="left:22.8px;width:7.6px;height:18.6px;background:#ff789b"></i><i style="left:30.4px;width:7.6px;height:17.1px;background:#ff7a9c"></i><i style="left:38.0px;width:7.6px;height:6.6px;background:#fab6c6"></i><i style="left:45.6px;width:7.6px;height:4.1px;background:#f8c8d3"></i><i style="left:53.2px;width:7.6px;height:9.1px;background:#fd9db3"></i><i style="left:60.8px;width:7.6px;height:11.1px;background:#fe8ca8"></i><i style="left:68.4px;width:7.6px;height:4.6px;background:#f9c6d1"></i></div>
<div class="sep" style="left:1px;top:688.14px;width:341px"></div>
<div class="sep" style="left:722px;top:688.14px;width:77px"></div>
<div class="cell idx" style="left:1px;top:689.14px;width:49px">27</div>
<div class="cell name" style="left:50px;top:689.14px;width:178px"><span class="c">菲律宾</span>01 <span class="c">高级专线</span> 1x</div>
<div class="cell type" style="left:228px;top:689.14px;width:111px">Shadowsocks</div>
<div class="cell k" style="left:342px;top:689.14px;width:72px;background:#74daae;color:#0f3823">99ms</div>
<div class="cell k" style="left:416px;top:689.14px;width:92.5px;background:#41cc96;color:#0f3823">283ms</div>
<div class="cell k" style="left:510.5px;top:689.14px;width:103.25px;background:#f9ecef;color:#2a2a2a">4.29Mbps</div>
<div class="cell k" style="left:616px;top:689.14px;width:104.5px;background:#f8e9ec;color:#2a2a2a">5.16Mbps</div>
<div class="spark" style="left:722px;top:689.14px;width:77px"></div>
<div class="sep" style="left:1px;top:712.71px;width:341px"></div>
<div class="sep" style="left:722px;top:712.71px;width:77px"></div>
<div class="cell idx" style="left:1px;top:713.71px;width:49px">28</div>
<div class="cell name" style="left:50px;top:713.71px;width:178px"><span class="c">菲律宾</span>02 <span class="c">高级专线</span> 1x</div>
<div class="cell type" style="left:228px;top:713.71px;width:111px">Shadowsocks</div>
<div class="cell k" style="left:342px;top:713.71px;width:72px;background:#71d8ac;color:#0f3823">108ms</div>
<div class="cell k" style="left:416px;top:713.71px;width:92.5px;background:#37c78f;color:#0f3823">353ms</div>
<div class="cell k" style="left:510.5px;top:713.71px;width:103.25px;background:#f9ecef;color:#2a2a2a">4.26Mbps</div>
<div class="cell k" style="left:616px;top:713.71px;width:104.5px;background:#f8eaed;color:#2a2a2a">4.82Mbps</div>
<div class="spark" style="left:722px;top:713.71px;width:77px"></div>
<div class="sep" style="left:1px;top:737.28px;width:341px"></div>
<div class="sep" style="left:722px;top:737.28px;width:77px"></div>
<div class="cell idx" style="left:1px;top:738.28px;width:49px">29</div>
<div class="cell name" style="left:50px;top:738.28px;width:178px"><span class="c">印度</span>01 <span class="c">高级专线</span> 1x</div>
<div class="cell type" style="left:228px;top:738.28px;width:111px">Shadowsocks</div>
<div class="cell k" style="left:342px;top:738.28px;width:72px;background:#71d8ac;color:#0f3823">108ms</div>
<div class="cell k" style="left:416px;top:738.28px;width:92.5px;background:#33c48c;color:#0f3823">388ms</div>
<div class="cell k" style="left:510.5px;top:738.28px;width:103.25px;background:#ff789b;color:#620c2e">629.73Mbps</div>
<div class="cell k" style="left:616px;top:738.28px;width:104.5px;background:#ff769a;color:#620c2e">720.24Mbps</div>
<div class="spark" style="left:722px;top:738.28px;width:77px"><i style="left:0.0px;width:7.6px;height:8.3px;background:#fca5ba"></i><i style="left:7.6px;width:7.6px;height:17.8px;background:#ff799b"></i><i style="left:15.2px;width:7.6px;height:21.8px;background:#ff769a"></i><i style="left:22.8px;width:7.6px;height:17.3px;background:#ff7a9c"></i><i style="left:30.4px;width:7.6px;height:18.8px;background:#ff789b"></i><i style="left:38.0px;width:7.6px;height:20.8px;background:#ff779a"></i><i style="left:45.6px;width:7.6px;height:20.3px;background:#ff779a"></i><i style="left:53.2px;width:7.6px;height:20.3px;background:#ff779a"></i><i style="left:60.8px;width:7.6px;height:20.3px;background:#ff779a"></i><i style="left:68.4px;width:7.6px;height:17.3px;background:#ff7a9c"></i></div>
<div class="sep" style="left:1px;top:761.84px;width:341px"></div>
<div class="sep" style="left:722px;top:761.84px;width:77px"></div>
<div class="cell idx" style="left:1px;top:762.84px;width:49px">30</div>
<div class="cell name" style="left:50px;top:762.84px;width:178px"><span class="c">澳大利亚</span>01 <span class="c">高级专线</span> 1x</div>
<div class="cell type" style="left:228px;top:762.84px;width:111px">Shadowsocks</div>
<div class="cell k" style="left:342px;top:762.84px;width:72px;background:#5fd2a2;color:#0f3823">150ms</div>
<div class="cell k" style="left:416px;top:762.84px;width:92.5px;background:#1ea775;color:#0f3823">549ms</div>
<div class="cell k" style="left:510.5px;top:762.84px;width:103.25px;background:#ff7a9c;color:#620c2e">564.77Mbps</div>
<div class="cell k" style="left:616px;top:762.84px;width:104.5px;background:#ff769a;color:#620c2e">731.37Mbps</div>
<div class="spark" style="left:722px;top:762.84px;width:77px"><i style="left:0.0px;width:7.6px;height:3.3px;background:#f7cbd5"></i><i style="left:7.6px;width:7.6px;height:18.3px;background:#ff789b"></i><i style="left:15.2px;width:7.6px;height:21.3px;background:#ff779a"></i><i style="left:22.8px;width:7.6px;height:19.3px;background:#ff779b"></i><i style="left:30.4px;width:7.6px;height:16.8px;background:#ff7b9d"></i><i style="left:38.0px;width:7.6px;height:15.3px;background:#ff7f9f"></i><i style="left:45.6px;width:7.6px;height:16.3px;background:#ff7c9e"></i><i style="left:53.2px;width:7.6px;height:15.3px;background:#ff7f9f"></i><i style="left:60.8px;width:7.6px;height:16.8px;background:#ff7b9d"></i><i style="left:68.4px;width:7.6px;height:15.3px;background:#ff7f9f"></i></div>
<div class="sep" style="left:1px;top:786.41px;width:341px"></div>
<div class="sep" style="left:722px;top:786.41px;width:77px"></div>
<div class="cell idx" style="left:1px;top:787.41px;width:49px">31</div>
<div class="cell name" style="left:50px;top:787.41px;width:178px"><span class="c">澳大利亚</span>02 <span class="c">高级专线</span> 1x</div>
<div class="cell type" style="left:228px;top:787.41px;width:111px">Shadowsocks</div>
<div class="cell k" style="left:342px;top:787.41px;width:72px;background:#5dd2a1;color:#0f3823">155ms</div>
<div class="cell k" style="left:416px;top:787.41px;width:92.5px;background:#1ca473;color:#0f3823">585ms</div>
<div class="cell k" style="left:510.5px;top:787.41px;width:103.25px;background:#ff7b9d;color:#620c2e">556.50Mbps</div>
<div class="cell k" style="left:616px;top:787.41px;width:104.5px;background:#ff769a;color:#620c2e">725.48Mbps</div>
<div class="spark" style="left:722px;top:787.41px;width:77px"><i style="left:0.0px;width:7.6px;height:5.4px;background:#f9c2ce"></i><i style="left:7.6px;width:7.6px;height:16.9px;background:#ff7b9d"></i><i style="left:15.2px;width:7.6px;height:21.9px;background:#ff769a"></i><i style="left:22.8px;width:7.6px;height:16.9px;background:#ff7b9d"></i><i style="left:30.4px;width:7.6px;height:17.9px;background:#ff799b"></i><i style="left:38.0px;width:7.6px;height:17.4px;background:#ff7a9c"></i><i style="left:45.6px;width:7.6px;height:15.4px;background:#ff7e9f"></i><i style="left:53.2px;width:7.6px;height:18.4px;background:#ff789b"></i><i style="left:60.8px;width:7.6px;height:17.4px;background:#ff7a9c"></i><i style="left:68.4px;width:7.6px;height:17.9px;background:#ff799b"></i></div>
<div class="sep" style="left:1px;top:810.98px;width:341px"></div>
<div class="sep" style="left:722px;top:810.98px;width:77px"></div>
<div class="cell idx" style="left:1px;top:811.98px;width:49px">32</div>
<div class="cell name" style="left:50px;top:811.98px;width:178px"><span class="c">新西兰</span>01 <span class="c">高级专线</span> 3x</div>
<div class="cell type" style="left:228px;top:811.98px;width:111px">Shadowsocks</div>
<div class="cell k" style="left:342px;top:811.98px;width:72px;background:#4dcd99;color:#0f3823">202ms</div>
<div class="cell k" style="left:416px;top:811.98px;width:92.5px;background:#18a06e;color:#0f3823">701ms</div>
<div class="cell k" style="left:510.5px;top:811.98px;width:103.25px;background:#f9c6d1;color:#421928">150.09Mbps</div>
<div class="cell k" style="left:616px;top:811.98px;width:104.5px;background:#f9c4d0;color:#421928">169.25Mbps</div>
<div class="spark" style="left:722px;top:811.98px;width:77px"><i style="left:0.0px;width:7.6px;height:1.9px;background:#f7d0d9"></i><i style="left:7.6px;width:7.6px;height:6.4px;background:#fab8c7"></i><i style="left:15.2px;width:7.6px;height:7.9px;background:#fbaabd"></i><i style="left:22.8px;width:7.6px;height:7.9px;background:#fbaabd"></i><i style="left:30.4px;width:7.6px;height:7.9px;background:#fbaabd"></i><i style="left:38.0px;width:7.6px;height:7.9px;background:#fbaabd"></i><i style="left:45.6px;width:7.6px;height:7.9px;background:#fbaabd"></i><i style="left:53.2px;width:7.6px;height:7.9px;background:#fbaabd"></i><i style="left:60.8px;width:7.6px;height:7.9px;background:#fbaabd"></i><i style="left:68.4px;width:7.6px;height:7.9px;background:#fbaabd"></i></div>
<div class="sep" style="left:1px;top:835.54px;width:341px"></div>
<div class="sep" style="left:722px;top:835.54px;width:77px"></div>
<div class="cell idx" style="left:1px;top:836.54px;width:49px">33</div>
<div class="cell name" style="left:50px;top:836.54px;width:178px"><span class="c">美国</span>01 <span class="c">高级专线</span> 1x</div>
<div class="cell type" style="left:228px;top:836.54px;width:111px">Shadowsocks</div>
<div class="cell k" style="left:342px;top:836.54px;width:72px;background:#42c994;color:#0f3823">241ms</div>
<div class="cell k" style="left:416px;top:836.54px;width:92.5px;background:#18a06e;color:#0f3823">732ms</div>
<div class="cell k" style="left:510.5px;top:836.54px;width:103.25px;background:#f8d7de;color:#3a1c26">39.86Mbps</div>
<div class="cell k" style="left:616px;top:836.54px;width:104.5px;background:#f8c8d3;color:#411927">136.45Mbps</div>
<div class="spark" style="left:722px;top:836.54px;width:77px"><i style="left:7.6px;width:7.6px;height:7.0px;background:#fab2c3"></i><i style="left:15.2px;width:7.6px;height:4.0px;background:#f8c8d3"></i><i style="left:22.8px;width:7.6px;height:0.7px;background:#f9e0e6"></i><i style="left:30.4px;width:7.6px;height:0.7px;background:#f9e0e6"></i><i style="left:38.0px;width:7.6px;height:0.7px;background:#f9e0e6"></i><i style="left:45.6px;width:7.6px;height:0.7px;background:#f9e0e6"></i><i style="left:53.2px;width:7.6px;height:0.7px;background:#f9e0e6"></i><i style="left:60.8px;width:7.6px;height:0.7px;background:#f9e0e6"></i><i style="left:68.4px;width:7.6px;height:0.7px;background:#f9e0e6"></i></div>
<div class="sep" style="left:1px;top:860.11px;width:341px"></div>
<div class="sep" style="left:722px;top:860.11px;width:77px"></div>
<div class="cell idx" style="left:1px;top:861.11px;width:49px">34</div>
<div class="cell name" style="left:50px;top:861.11px;width:178px"><span class="c">美国</span>02 <span class="c">高级专线</span> 1x</div>
<div class="cell type" style="left:228px;top:861.11px;width:111px">Shadowsocks</div>
<div class="cell k" style="left:342px;top:861.11px;width:72px;background:#45ca96;color:#0f3823">228ms</div>
<div class="cell k" style="left:416px;top:861.11px;width:92.5px;background:#18a06e;color:#0f3823">701ms</div>
<div class="cell k" style="left:510.5px;top:861.11px;width:103.25px;background:#f8d8df;color:#3a1c26">38.13Mbps</div>
<div class="cell k" style="left:616px;top:861.11px;width:104.5px;background:#f7ccd5;color:#3f1a27">97.51Mbps</div>
<div class="spark" style="left:722px;top:861.11px;width:77px"><i style="left:7.6px;width:7.6px;height:4.0px;background:#f8c8d3"></i><i style="left:15.2px;width:7.6px;height:0.5px;background:#f9e4e8"></i><i style="left:22.8px;width:7.6px;height:0.5px;background:#f9e4e8"></i><i style="left:30.4px;width:7.6px;height:0.5px;background:#f9e4e8"></i><i style="left:38.0px;width:7.6px;height:0.5px;background:#f9e4e8"></i><i style="left:45.6px;width:7.6px;height:0.5px;background:#f9e4e8"></i><i style="left:53.2px;width:7.6px;height:3.6px;background:#f8cad4"></i><i style="left:60.8px;width:7.6px;height:0.5px;background:#f9e4e8"></i><i style="left:68.4px;width:7.6px;height:0.5px;background:#f9e4e8"></i></div>
<div class="sep" style="left:1px;top:884.68px;width:341px"></div>
<div class="sep" style="left:722px;top:884.68px;width:77px"></div>
<div class="cell idx" style="left:1px;top:885.68px;width:49px">35</div>
<div class="cell name" style="left:50px;top:885.68px;width:178px"><span class="c">美国</span>03 <span class="c">高级专线</span> 1x</div>
<div class="cell type" style="left:228px;top:885.68px;width:111px">Shadowsocks</div>
<div class="cell k" style="left:342px;top:885.68px;width:72px;background:#43c994;color:#0f3823">238ms</div>
<div class="cell k" style="left:416px;top:885.68px;width:92.5px;background:#18a06e;color:#0f3823">722ms</div>
<div class="cell k" style="left:510.5px;top:885.68px;width:103.25px;background:#f7ced7;color:#3e1a27">81.13Mbps</div>
<div class="cell k" style="left:616px;top:885.68px;width:104.5px;background:#fca2b7;color:#52132b">284.37Mbps</div>
<div class="spark" style="left:722px;top:885.68px;width:77px"><i style="left:7.6px;width:7.6px;height:9.1px;background:#fd9db3"></i><i style="left:15.2px;width:7.6px;height:15.1px;background:#ff7f9f"></i><i style="left:22.8px;width:7.6px;height:6.1px;background:#fabbc9"></i><i style="left:30.4px;width:7.6px;height:4.1px;background:#f8c8d3"></i><i style="left:38.0px;width:7.6px;height:0.5px;background:#f9e4e8"></i><i style="left:45.6px;width:7.6px;height:0.5px;background:#f9e4e8"></i><i style="left:53.2px;width:7.6px;height:0.5px;background:#f9e4e8"></i><i style="left:60.8px;width:7.6px;height:0.5px;background:#f9e4e8"></i><i style="left:68.4px;width:7.6px;height:0.5px;background:#f9e4e8"></i></div>
<div class="sep" style="left:1px;top:909.25px;width:341px"></div>
<div class="sep" style="left:722px;top:909.25px;width:77px"></div>
<div class="cell idx" style="left:1px;top:910.25px;width:49px">36</div>
<div class="cell name" style="left:50px;top:910.25px;width:178px"><span class="c">美国</span>04 <span class="c">高级专线</span> 1x</div>
<div class="cell type" style="left:228px;top:910.25px;width:111px">Shadowsocks</div>
<div class="cell k" style="left:342px;top:910.25px;width:72px;background:#45ca95;color:#0f3823">230ms</div>
<div class="cell k" style="left:416px;top:910.25px;width:92.5px;background:#18a06e;color:#0f3823">696ms</div>
<div class="cell k" style="left:510.5px;top:910.25px;width:103.25px;background:#f7d1d9;color:#3d1b27">59.73Mbps</div>
<div class="cell k" style="left:616px;top:910.25px;width:104.5px;background:#f9bfcc;color:#451828">188.12Mbps</div>
<div class="spark" style="left:722px;top:910.25px;width:77px"><i style="left:7.6px;width:7.6px;height:9.2px;background:#fd9cb3"></i><i style="left:15.2px;width:7.6px;height:9.7px;background:#fd96af"></i><i style="left:22.8px;width:7.6px;height:2.7px;background:#f7cdd6"></i><i style="left:30.4px;width:7.6px;height:0.5px;background:#f9e4e8"></i><i style="left:38.0px;width:7.6px;height:0.5px;background:#f9e4e8"></i><i style="left:45.6px;width:7.6px;height:0.5px;background:#f9e4e8"></i><i style="left:53.2px;width:7.6px;height:0.5px;background:#f9e4e8"></i><i style="left:60.8px;width:7.6px;height:0.5px;background:#f9e4e8"></i><i style="left:68.4px;width:7.6px;height:0.5px;background:#f9e4e8"></i></div>
<div class="sep" style="left:1px;top:933.81px;width:341px"></div>
<div class="sep" style="left:722px;top:933.81px;width:77px"></div>
<div class="cell idx" style="left:1px;top:934.81px;width:49px">37</div>
<div class="cell name" style="left:50px;top:934.81px;width:178px"><span class="c">美国</span>05 <span class="c">高级专线</span> 1x</div>
<div class="cell type" style="left:228px;top:934.81px;width:111px">Shadowsocks</div>
<div class="cell k" style="left:342px;top:934.81px;width:72px;background:#43c994;color:#0f3823">237ms</div>
<div class="cell k" style="left:416px;top:934.81px;width:92.5px;background:#18a06e;color:#0f3823">723ms</div>
<div class="cell k" style="left:510.5px;top:934.81px;width:103.25px;background:#f7d1d9;color:#3d1b27">56.77Mbps</div>
<div class="cell k" style="left:616px;top:934.81px;width:104.5px;background:#f8c8d3;color:#411927">134.80Mbps</div>
<div class="spark" style="left:722px;top:934.81px;width:77px"><i style="left:7.6px;width:7.6px;height:5.8px;background:#f9becb"></i><i style="left:15.2px;width:7.6px;height:4.3px;background:#f8c7d2"></i><i style="left:22.8px;width:7.6px;height:0.5px;background:#f9e4e8"></i><i style="left:30.4px;width:7.6px;height:0.5px;background:#f9e4e8"></i><i style="left:38.0px;width:7.6px;height:0.5px;background:#f9e4e8"></i><i style="left:45.6px;width:7.6px;height:3.8px;background:#f8c9d3"></i><i style="left:53.2px;width:7.6px;height:3.8px;background:#f8c9d3"></i><i style="left:60.8px;width:7.6px;height:0.5px;background:#f9e4e8"></i><i style="left:68.4px;width:7.6px;height:0.5px;background:#f9e4e8"></i></div>
<div class="sep" style="left:1px;top:958.38px;width:341px"></div>
<div class="sep" style="left:722px;top:958.38px;width:77px"></div>
<div class="cell idx" style="left:1px;top:959.38px;width:49px">38</div>
<div class="cell name" style="left:50px;top:959.38px;width:178px"><span class="c">美国</span>06 <span class="c">高级专线</span> 1x</div>
<div class="cell type" style="left:228px;top:959.38px;width:111px">Shadowsocks</div>
<div class="cell k" style="left:342px;top:959.38px;width:72px;background:#42c994;color:#0f3823">241ms</div>
<div class="cell k" style="left:416px;top:959.38px;width:92.5px;background:#18a06e;color:#0f3823">732ms</div>
<div class="cell k" style="left:510.5px;top:959.38px;width:103.25px;background:#f8dee3;color:#3a1c26">28.15Mbps</div>
<div class="cell k" style="left:616px;top:959.38px;width:104.5px;background:#f7ccd5;color:#3f1a27">97.25Mbps</div>
<div class="spark" style="left:722px;top:959.38px;width:77px"><i style="left:7.6px;width:7.6px;height:3.8px;background:#f8c9d3"></i><i style="left:15.2px;width:7.6px;height:0.3px;background:#f8e7ea"></i><i style="left:22.8px;width:7.6px;height:0.3px;background:#f8e7ea"></i><i style="left:30.4px;width:7.6px;height:0.3px;background:#f8e7ea"></i><i style="left:38.0px;width:7.6px;height:0.3px;background:#f8e7ea"></i><i style="left:45.6px;width:7.6px;height:0.3px;background:#f8e7ea"></i><i style="left:53.2px;width:7.6px;height:0.3px;background:#f8e7ea"></i><i style="left:60.8px;width:7.6px;height:0.3px;background:#f8e7ea"></i><i style="left:68.4px;width:7.6px;height:0.3px;background:#f8e7ea"></i></div>
<div class="sep" style="left:1px;top:982.95px;width:341px"></div>
<div class="sep" style="left:722px;top:982.95px;width:77px"></div>
<div class="cell idx" style="left:1px;top:983.95px;width:49px">39</div>
<div class="cell name" style="left:50px;top:983.95px;width:178px"><span class="c">美国</span>07 <span class="c">高级专线</span> 1x</div>
<div class="cell type" style="left:228px;top:983.95px;width:111px">Shadowsocks</div>
<div class="cell k" style="left:342px;top:983.95px;width:72px;background:#43c994;color:#0f3823">237ms</div>
<div class="cell k" style="left:416px;top:983.95px;width:92.5px;background:#18a06e;color:#0f3823">720ms</div>
<div class="cell k" style="left:510.5px;top:983.95px;width:103.25px;background:#f8d7de;color:#3a1c26">40.81Mbps</div>
<div class="cell k" style="left:616px;top:983.95px;width:104.5px;background:#f8c8d3;color:#411927">135.78Mbps</div>
<div class="spark" style="left:722px;top:983.95px;width:77px"><i style="left:7.6px;width:7.6px;height:6.4px;background:#fab8c7"></i><i style="left:15.2px;width:7.6px;height:5.4px;background:#f9c2ce"></i><i style="left:22.8px;width:7.6px;height:0.3px;background:#f8e7ea"></i><i style="left:30.4px;width:7.6px;height:0.3px;background:#f8e7ea"></i><i style="left:38.0px;width:7.6px;height:0.3px;background:#f8e7ea"></i><i style="left:45.6px;width:7.6px;height:0.3px;background:#f8e7ea"></i><i style="left:53.2px;width:7.6px;height:0.3px;background:#f8e7ea"></i><i style="left:60.8px;width:7.6px;height:0.3px;background:#f8e7ea"></i><i style="left:68.4px;width:7.6px;height:0.3px;background:#f8e7ea"></i></div>
<div class="sep" style="left:1px;top:1007.51px;width:341px"></div>
<div class="sep" style="left:722px;top:1007.51px;width:77px"></div>
<div class="cell idx" style="left:1px;top:1008.51px;width:49px">40</div>
<div class="cell name" style="left:50px;top:1008.51px;width:178px"><span class="c">美国</span>08 <span class="c">高级专线</span> 1x</div>
<div class="cell type" style="left:228px;top:1008.51px;width:111px">Shadowsocks</div>
<div class="cell k" style="left:342px;top:1008.51px;width:72px;background:#43c994;color:#0f3823">237ms</div>
<div class="cell k" style="left:416px;top:1008.51px;width:92.5px;background:#189f6e;color:#0f3823">737ms</div>
<div class="cell k" style="left:510.5px;top:1008.51px;width:103.25px;background:#f7cfd7;color:#3e1b27">75.30Mbps</div>
<div class="cell k" style="left:616px;top:1008.51px;width:104.5px;background:#fbabbd;color:#4e142a">257.64Mbps</div>
<div class="spark" style="left:722px;top:1008.51px;width:77px"><i style="left:7.6px;width:7.6px;height:14.0px;background:#ff82a1"></i><i style="left:15.2px;width:7.6px;height:11.5px;background:#fe8ba6"></i><i style="left:22.8px;width:7.6px;height:5.0px;background:#f9c5d0"></i><i style="left:30.4px;width:7.6px;height:0.3px;background:#f8e7ea"></i><i style="left:38.0px;width:7.6px;height:0.3px;background:#f8e7ea"></i><i style="left:45.6px;width:7.6px;height:0.3px;background:#f8e7ea"></i><i style="left:53.2px;width:7.6px;height:0.3px;background:#f8e7ea"></i><i style="left:60.8px;width:7.6px;height:0.3px;background:#f8e7ea"></i><i style="left:68.4px;width:7.6px;height:0.3px;background:#f8e7ea"></i></div>
<div class="sep" style="left:1px;top:1032.08px;width:341px"></div>
<div class="sep" style="left:722px;top:1032.08px;width:77px"></div>
<div class="cell idx" style="left:1px;top:1033.08px;width:49px">41</div>
<div class="cell name" style="left:50px;top:1033.08px;width:178px"><span class="c">加拿大</span>01 <span class="c">高级专线</span> 1x</div>
<div class="cell type" style="left:228px;top:1033.08px;width:111px">Shadowsocks</div>
<div class="cell k" style="left:342px;top:1033.08px;width:72px;background:#48cb97;color:#0f3823">217ms</div>
<div class="cell k" style="left:416px;top:1033.08px;width:92.5px;background:#19a16f;color:#0f3823">685ms</div>
<div class="cell k" style="left:510.5px;top:1033.08px;width:103.25px;background:#ff89a6;color:#5d0e2d">389.96Mbps</div>
<div class="cell k" style="left:616px;top:1033.08px;width:104.5px;background:#ff7b9d;color:#620c2e">554.25Mbps</div>
<div class="spark" style="left:722px;top:1033.08px;width:77px"><i style="left:7.6px;width:7.6px;height:13.5px;background:#ff83a1"></i><i style="left:15.2px;width:7.6px;height:17.5px;background:#ff7a9c"></i><i style="left:22.8px;width:7.6px;height:18.0px;background:#ff789b"></i><i style="left:30.4px;width:7.6px;height:15.5px;background:#ff7e9f"></i><i style="left:38.0px;width:7.6px;height:16.0px;background:#ff7d9e"></i><i style="left:45.6px;width:7.6px;height:15.0px;background:#ff7f9f"></i><i style="left:53.2px;width:7.6px;height:17.0px;background:#ff7b9d"></i><i style="left:60.8px;width:7.6px;height:17.5px;background:#ff7a9c"></i><i style="left:68.4px;width:7.6px;height:22.5px;background:#ff769a"></i></div>
<div class="sep" style="left:1px;top:1056.65px;width:341px"></div>
<div class="sep" style="left:722px;top:1056.65px;width:77px"></div>
<div class="cell idx" style="left:1px;top:1057.65px;width:49px">42</div>
<div class="cell name" style="left:50px;top:1057.65px;width:178px"><span class="c">加拿大</span>02 <span class="c">高级专线</span> 1x</div>
<div class="cell type" style="left:228px;top:1057.65px;width:111px">Shadowsocks</div>
<div class="cell k" style="left:342px;top:1057.65px;width:72px;background:#48cb97;color:#0f3823">219ms</div>
<div class="cell k" style="left:416px;top:1057.65px;width:92.5px;background:#18a06f;color:#0f3823">686ms</div>
<div class="cell k" style="left:510.5px;top:1057.65px;width:103.25px;background:#ff89a5;color:#5d0e2d">390.99Mbps</div>
<div class="cell k" style="left:616px;top:1057.65px;width:104.5px;background:#ff7e9f;color:#620c2e">510.37Mbps</div>
<div class="spark" style="left:722px;top:1057.65px;width:77px"><i style="left:7.6px;width:7.6px;height:13.6px;background:#ff83a1"></i><i style="left:15.2px;width:7.6px;height:14.1px;background:#ff81a1"></i><i style="left:22.8px;width:7.6px;height:20.6px;background:#ff779a"></i><i style="left:30.4px;width:7.6px;height:20.1px;background:#ff779a"></i><i style="left:38.0px;width:7.6px;height:22.1px;background:#ff769a"></i><i style="left:45.6px;width:7.6px;height:18.1px;background:#ff789b"></i><i style="left:53.2px;width:7.6px;height:18.6px;background:#ff789b"></i><i style="left:60.8px;width:7.6px;height:19.1px;background:#ff789b"></i><i style="left:68.4px;width:7.6px;height:20.6px;background:#ff779a"></i></div>
<div class="sep" style="left:1px;top:1081.21px;width:341px"></div>
<div class="sep" style="left:722px;top:1081.21px;width:77px"></div>
<div class="cell idx" style="left:1px;top:1082.21px;width:49px">43</div>
<div class="cell name" style="left:50px;top:1082.21px;width:178px"><span class="c">阿根廷</span>01 <span class="c">高级专线</span> 1x</div>
<div class="cell type" style="left:228px;top:1082.21px;width:111px">Shadowsocks</div>
<div class="cell k" style="left:342px;top:1082.21px;width:72px;background:#29b480;color:#0f3823">344ms</div>
<div class="cell k" style="left:416px;top:1082.21px;width:92.5px;background:#149b69;color:#0f3823">1065ms</div>
<div class="cell k" style="left:510.5px;top:1082.21px;width:103.25px;background:#f8d7de;color:#3a1c26">40.76Mbps</div>
<div class="cell k" style="left:616px;top:1082.21px;width:104.5px;background:#f7ccd5;color:#3f1a27">98.44Mbps</div>
<div class="spark" style="left:722px;top:1082.21px;width:77px"><i style="left:7.6px;width:7.6px;height:2.6px;background:#f7ced6"></i><i style="left:15.2px;width:7.6px;height:3.6px;background:#f8cad4"></i><i style="left:22.8px;width:7.6px;height:3.1px;background:#f7ccd5"></i><i style="left:30.4px;width:7.6px;height:0.8px;background:#f9dfe4"></i><i style="left:38.0px;width:7.6px;height:0.8px;background:#f9dfe4"></i><i style="left:45.6px;width:7.6px;height:0.8px;background:#f9dfe4"></i><i style="left:53.2px;width:7.6px;height:0.8px;background:#f9dfe4"></i><i style="left:60.8px;width:7.6px;height:0.8px;background:#f9dfe4"></i><i style="left:68.4px;width:7.6px;height:0.8px;background:#f9dfe4"></i></div>
<div class="sep" style="left:1px;top:1105.78px;width:341px"></div>
<div class="sep" style="left:722px;top:1105.78px;width:77px"></div>
<div class="cell idx" style="left:1px;top:1106.78px;width:49px">44</div>
<div class="cell name" style="left:50px;top:1106.78px;width:178px"><span class="c">巴西</span>01 <span class="c">高级专线</span> 1x</div>
<div class="cell type" style="left:228px;top:1106.78px;width:111px">Shadowsocks</div>
<div class="cell k" style="left:342px;top:1106.78px;width:72px;background:#26b17d;color:#0f3823">352ms</div>
<div class="cell k" style="left:416px;top:1106.78px;width:92.5px;background:#149a69;color:#0f3823">1109ms</div>
<div class="cell k" style="left:510.5px;top:1106.78px;width:103.25px;background:#f8d6dd;color:#3a1c26">42.23Mbps</div>
<div class="cell k" style="left:616px;top:1106.78px;width:104.5px;background:#f7d0d8;color:#3d1b27">69.08Mbps</div>
<div class="spark" style="left:722px;top:1106.78px;width:77px"><i style="left:7.6px;width:7.6px;height:1.6px;background:#f7d2da"></i><i style="left:15.2px;width:7.6px;height:1.6px;background:#f7d2da"></i><i style="left:22.8px;width:7.6px;height:1.0px;background:#f8dbe1"></i><i style="left:30.4px;width:7.6px;height:1.0px;background:#f8dbe1"></i><i style="left:38.0px;width:7.6px;height:1.0px;background:#f8dbe1"></i><i style="left:45.6px;width:7.6px;height:1.0px;background:#f8dbe1"></i><i style="left:53.2px;width:7.6px;height:1.0px;background:#f8dbe1"></i><i style="left:60.8px;width:7.6px;height:1.0px;background:#f8dbe1"></i><i style="left:68.4px;width:7.6px;height:1.0px;background:#f8dbe1"></i></div>
<div class="sep" style="left:1px;top:1130.35px;width:341px"></div>
<div class="sep" style="left:722px;top:1130.35px;width:77px"></div>
<div class="cell idx" style="left:1px;top:1131.35px;width:49px">45</div>
<div class="cell name" style="left:50px;top:1131.35px;width:178px"><span class="c">英国</span>01 <span class="c">高级专线</span> 1x</div>
<div class="cell type" style="left:228px;top:1131.35px;width:111px">Shadowsocks</div>
<div class="cell k" style="left:342px;top:1131.35px;width:72px;background:#48cb97;color:#0f3823">216ms</div>
<div class="cell k" style="left:416px;top:1131.35px;width:92.5px;background:#19a170;color:#0f3823">659ms</div>
<div class="cell k" style="left:510.5px;top:1131.35px;width:103.25px;background:#fe90aa;color:#5a0f2c">342.20Mbps</div>
<div class="cell k" style="left:616px;top:1131.35px;width:104.5px;background:#ff84a2;color:#5f0d2d">426.70Mbps</div>
<div class="spark" style="left:722px;top:1131.35px;width:77px"><i style="left:7.6px;width:7.6px;height:15.7px;background:#ff7e9e"></i><i style="left:15.2px;width:7.6px;height:15.7px;background:#ff7e9e"></i><i style="left:22.8px;width:7.6px;height:17.7px;background:#ff799c"></i><i style="left:30.4px;width:7.6px;height:20.7px;background:#ff779a"></i><i style="left:38.0px;width:7.6px;height:20.7px;background:#ff779a"></i><i style="left:45.6px;width:7.6px;height:21.7px;background:#ff769a"></i><i style="left:53.2px;width:7.6px;height:20.7px;background:#ff779a"></i><i style="left:60.8px;width:7.6px;height:20.2px;background:#ff779a"></i><i style="left:68.4px;width:7.6px;height:16.7px;background:#ff7b9d"></i></div>
<div class="sep" style="left:1px;top:1154.92px;width:341px"></div>
<div class="sep" style="left:722px;top:1154.92px;width:77px"></div>
<div class="cell idx" style="left:1px;top:1155.92px;width:49px">46</div>
<div class="cell name" style="left:50px;top:1155.92px;width:178px"><span class="c">英国</span>02 <span class="c">高级专线</span> 1x</div>
<div class="cell type" style="left:228px;top:1155.92px;width:111px">Shadowsocks</div>
<div class="cell k" style="left:342px;top:1155.92px;width:72px;background:#48cb97;color:#0f3823">218ms</div>
<div class="cell k" style="left:416px;top:1155.92px;width:92.5px;background:#19a170;color:#0f3823">664ms</div>
<div class="cell k" style="left:510.5px;top:1155.92px;width:103.25px;background:#ff85a2;color:#5e0d2d">424.54Mbps</div>
<div class="cell k" style="left:616px;top:1155.92px;width:104.5px;background:#ff7d9e;color:#620c2e">532.10Mbps</div>
<div class="spark" style="left:722px;top:1155.92px;width:77px"><i style="left:7.6px;width:7.6px;height:15.8px;background:#ff7d9e"></i><i style="left:15.2px;width:7.6px;height:17.8px;background:#ff799b"></i><i style="left:22.8px;width:7.6px;height:21.8px;background:#ff769a"></i><i style="left:30.4px;width:7.6px;height:16.8px;background:#ff7b9d"></i><i style="left:38.0px;width:7.6px;height:16.8px;background:#ff7b9d"></i><i style="left:45.6px;width:7.6px;height:20.8px;background:#ff779a"></i><i style="left:53.2px;width:7.6px;height:18.8px;background:#ff789b"></i><i style="left:60.8px;width:7.6px;height:21.3px;background:#ff779a"></i><i style="left:68.4px;width:7.6px;height:20.8px;background:#ff779a"></i></div>
<div class="sep" style="left:1px;top:1179.48px;width:341px"></div>
<div class="sep" style="left:722px;top:1179.48px;width:77px"></div>
<div class="cell idx" style="left:1px;top:1180.48px;width:49px">47</div>
<div class="cell name" style="left:50px;top:1180.48px;width:178px"><span class="c">英国</span>03 <span class="c">高级专线</span> 1x</div>
<div class="cell type" style="left:228px;top:1180.48px;width:111px">Shadowsocks</div>
<div class="cell k" style="left:342px;top:1180.48px;width:72px;background:#49cc97;color:#0f3823">215ms</div>
<div class="cell k" style="left:416px;top:1180.48px;width:92.5px;background:#1aa270;color:#0f3823">657ms</div>
<div class="cell k" style="left:510.5px;top:1180.48px;width:103.25px;background:#fe8ba6;color:#5c0e2d">381.01Mbps</div>
<div class="cell k" style="left:616px;top:1180.48px;width:104.5px;background:#ff7e9e;color:#620c2e">520.87Mbps</div>
<div class="spark" style="left:722px;top:1180.48px;width:77px"><i style="left:7.6px;width:7.6px;height:14.8px;background:#ff80a0"></i><i style="left:15.2px;width:7.6px;height:14.3px;background:#ff81a0"></i><i style="left:22.8px;width:7.6px;height:15.3px;background:#ff7f9f"></i><i style="left:30.4px;width:7.6px;height:18.8px;background:#ff789b"></i><i style="left:38.0px;width:7.6px;height:19.3px;background:#ff779b"></i><i style="left:45.6px;width:7.6px;height:21.8px;background:#ff769a"></i><i style="left:53.2px;width:7.6px;height:16.8px;background:#ff7b9d"></i><i style="left:60.8px;width:7.6px;height:17.3px;background:#ff7a9c"></i><i style="left:68.4px;width:7.6px;height:18.8px;background:#ff789b"></i></div>
<div class="sep" style="left:1px;top:1204.05px;width:341px"></div>
<div class="sep" style="left:722px;top:1204.05px;width:77px"></div>
<div class="cell idx" style="left:1px;top:1205.05px;width:49px">48</div>
<div class="cell name" style="left:50px;top:1205.05px;width:178px"><span class="c">英国</span>04 <span class="c">高级专线</span> 1x</div>
<div class="cell type" style="left:228px;top:1205.05px;width:111px">Shadowsocks</div>
<div class="cell k" style="left:342px;top:1205.05px;width:72px;background:#46ca96;color:#0f3823">226ms</div>
<div class="cell k" style="left:416px;top:1205.05px;width:92.5px;background:#19a16f;color:#0f3823">679ms</div>
<div class="cell k" style="left:510.5px;top:1205.05px;width:103.25px;background:#ff8aa6;color:#5c0e2d">385.45Mbps</div>
<div class="cell k" style="left:616px;top:1205.05px;width:104.5px;background:#ff82a1;color:#600d2e">462.87Mbps</div>
<div class="spark" style="left:722px;top:1205.05px;width:77px"><i style="left:7.6px;width:7.6px;height:18.4px;background:#ff789b"></i><i style="left:15.2px;width:7.6px;height:20.9px;background:#ff779a"></i><i style="left:22.8px;width:7.6px;height:19.9px;background:#ff779a"></i><i style="left:30.4px;width:7.6px;height:19.9px;background:#ff779a"></i><i style="left:38.0px;width:7.6px;height:19.4px;background:#ff779b"></i><i style="left:45.6px;width:7.6px;height:19.4px;background:#ff779b"></i><i style="left:53.2px;width:7.6px;height:20.9px;background:#ff779a"></i><i style="left:60.8px;width:7.6px;height:21.9px;background:#ff769a"></i><i style="left:68.4px;width:7.6px;height:19.9px;background:#ff779a"></i></div>
<div class="sep" style="left:1px;top:1228.62px;width:341px"></div>
<div class="sep" style="left:722px;top:1228.62px;width:77px"></div>
<div class="cell idx" style="left:1px;top:1229.62px;width:49px">49</div>
<div class="cell name" style="left:50px;top:1229.62px;width:178px"><span class="c">法国</span>01 <span class="c">高级专线</span> 1x</div>
<div class="cell type" style="left:228px;top:1229.62px;width:111px">Shadowsocks</div>
<div class="cell k" style="left:342px;top:1229.62px;width:72px;background:#49cc98;color:#0f3823">212ms</div>
<div class="cell k" style="left:416px;top:1229.62px;width:92.5px;background:#1aa270;color:#0f3823">646ms</div>
<div class="cell k" style="left:510.5px;top:1229.62px;width:103.25px;background:#fe93ac;color:#58102c">332.08Mbps</div>
<div class="cell k" style="left:616px;top:1229.62px;width:104.5px;background:#ff85a3;color:#5e0d2d">421.16Mbps</div>
<div class="spark" style="left:722px;top:1229.62px;width:77px"><i style="left:7.6px;width:7.6px;height:15.0px;background:#ff7f9f"></i><i style="left:15.2px;width:7.6px;height:19.0px;background:#ff789b"></i><i style="left:22.8px;width:7.6px;height:18.0px;background:#ff789b"></i><i style="left:30.4px;width:7.6px;height:21.5px;background:#ff769a"></i><i style="left:38.0px;width:7.6px;height:21.5px;background:#ff769a"></i><i style="left:45.6px;width:7.6px;height:21.0px;background:#ff779a"></i><i style="left:53.2px;width:7.6px;height:19.5px;background:#ff779b"></i><i style="left:60.8px;width:7.6px;height:18.0px;background:#ff789b"></i><i style="left:68.4px;width:7.6px;height:14.0px;background:#ff82a1"></i></div>
<div class="sep" style="left:1px;top:1253.18px;width:341px"></div>
<div class="sep" style="left:722px;top:1253.18px;width:77px"></div>
<div class="cell idx" style="left:1px;top:1254.18px;width:49px">50</div>
<div class="cell name" style="left:50px;top:1254.18px;width:178px"><span class="c">法国</span>02 <span class="c">高级专线</span> 1x</div>
<div class="cell type" style="left:228px;top:1254.18px;width:111px">Shadowsocks</div>
<div class="cell k" style="left:342px;top:1254.18px;width:72px;background:#4acc98;color:#0f3823">211ms</div>
<div class="cell k" style="left:416px;top:1254.18px;width:92.5px;background:#1aa270;color:#0f3823">648ms</div>
<div class="cell k" style="left:510.5px;top:1254.18px;width:103.25px;background:#fd94ad;color:#58102c">326.39Mbps</div>
<div class="cell k" style="left:616px;top:1254.18px;width:104.5px;background:#ff84a2;color:#5f0d2d">432.82Mbps</div>
<div class="spark" style="left:722px;top:1254.18px;width:77px"><i style="left:7.6px;width:7.6px;height:15.5px;background:#ff7e9f"></i><i style="left:15.2px;width:7.6px;height:14.5px;background:#ff81a0"></i><i style="left:22.8px;width:7.6px;height:20.5px;background:#ff779a"></i><i style="left:30.4px;width:7.6px;height:20.0px;background:#ff779a"></i><i style="left:38.0px;width:7.6px;height:22.0px;background:#ff769a"></i><i style="left:45.6px;width:7.6px;height:18.5px;background:#ff789b"></i><i style="left:53.2px;width:7.6px;height:16.0px;background:#ff7d9e"></i><i style="left:60.8px;width:7.6px;height:13.0px;background:#ff84a2"></i><i style="left:68.4px;width:7.6px;height:19.0px;background:#ff789b"></i></div>
<div class="sep" style="left:1px;top:1277.75px;width:341px"></div>
<div class="sep" style="left:722px;top:1277.75px;width:77px"></div>
<div class="cell idx" style="left:1px;top:1278.75px;width:49px">51</div>
<div class="cell name" style="left:50px;top:1278.75px;width:178px"><span class="c">德国</span>01 <span class="c">高级专线</span> 1x</div>
<div class="cell type" style="left:228px;top:1278.75px;width:111px">Shadowsocks</div>
<div class="cell k" style="left:342px;top:1278.75px;width:72px;background:#49cc98;color:#0f3823">213ms</div>
<div class="cell k" style="left:416px;top:1278.75px;width:92.5px;background:#1aa270;color:#0f3823">655ms</div>
<div class="cell k" style="left:510.5px;top:1278.75px;width:103.25px;background:#f9c5d0;color:#421928">164.68Mbps</div>
<div class="cell k" style="left:616px;top:1278.75px;width:104.5px;background:#fbadbf;color:#4d152a">251.12Mbps</div>
<div class="spark" style="left:722px;top:1278.75px;width:77px"><i style="left:7.6px;width:7.6px;height:13.1px;background:#ff84a2"></i><i style="left:15.2px;width:7.6px;height:8.6px;background:#fca2b7"></i><i style="left:22.8px;width:7.6px;height:8.1px;background:#fba8bb"></i><i style="left:30.4px;width:7.6px;height:8.1px;background:#fba8bb"></i><i style="left:38.0px;width:7.6px;height:8.1px;background:#fba8bb"></i><i style="left:45.6px;width:7.6px;height:8.1px;background:#fba8bb"></i><i style="left:53.2px;width:7.6px;height:8.1px;background:#fba8bb"></i><i style="left:60.8px;width:7.6px;height:8.6px;background:#fca2b7"></i><i style="left:68.4px;width:7.6px;height:8.1px;background:#fba8bb"></i></div>
<div class="sep" style="left:1px;top:1302.32px;width:341px"></div>
<div class="sep" style="left:722px;top:1302.32px;width:77px"></div>
<div class="cell idx" style="left:1px;top:1303.32px;width:49px">52</div>
<div class="cell name" style="left:50px;top:1303.32px;width:178px"><span class="c">德国</span>02 <span class="c">高级专线</span> 1x</div>
<div class="cell type" style="left:228px;top:1303.32px;width:111px">Shadowsocks</div>
<div class="cell k" style="left:342px;top:1303.32px;width:72px;background:#48cb97;color:#0f3823">217ms</div>
<div class="cell k" style="left:416px;top:1303.32px;width:92.5px;background:#1aa270;color:#0f3823">657ms</div>
<div class="cell k" style="left:510.5px;top:1303.32px;width:103.25px;background:#f9c5d0;color:#421928">165.54Mbps</div>
<div class="cell k" style="left:616px;top:1303.32px;width:104.5px;background:#fd9bb2;color:#55112b">306.43Mbps</div>
<div class="spark" style="left:722px;top:1303.32px;width:77px"><i style="left:7.6px;width:7.6px;height:16.2px;background:#ff7d9e"></i><i style="left:15.2px;width:7.6px;height:6.7px;background:#fab5c5"></i><i style="left:22.8px;width:7.6px;height:7.7px;background:#fbacbe"></i><i style="left:30.4px;width:7.6px;height:8.7px;background:#fca1b6"></i><i style="left:38.0px;width:7.6px;height:8.2px;background:#fba6ba"></i><i style="left:45.6px;width:7.6px;height:7.7px;background:#fbacbe"></i><i style="left:53.2px;width:7.6px;height:7.7px;background:#fbacbe"></i><i style="left:60.8px;width:7.6px;height:7.7px;background:#fbacbe"></i><i style="left:68.4px;width:7.6px;height:7.7px;background:#fbacbe"></i></div>
<div class="sep" style="left:1px;top:1326.88px;width:341px"></div>
<div class="sep" style="left:722px;top:1326.88px;width:77px"></div>
<div class="cell idx" style="left:1px;top:1327.88px;width:49px">53</div>
<div class="cell name" style="left:50px;top:1327.88px;width:178px"><span class="c">意大利</span>01 <span class="c">高级专线</span> 1x</div>
<div class="cell type" style="left:228px;top:1327.88px;width:111px">Shadowsocks</div>
<div class="cell k" style="left:342px;top:1327.88px;width:72px;background:#48cb97;color:#0f3823">218ms</div>
<div class="cell k" style="left:416px;top:1327.88px;width:92.5px;background:#19a16f;color:#0f3823">678ms</div>
<div class="cell k" style="left:510.5px;top:1327.88px;width:103.25px;background:#f7cdd6;color:#3e1a27">86.75Mbps</div>
<div class="cell k" style="left:616px;top:1327.88px;width:104.5px;background:#f8c7d2;color:#411927">139.20Mbps</div>
<div class="spark" style="left:722px;top:1327.88px;width:77px"><i style="left:0.0px;width:7.6px;height:1.7px;background:#f7d1d9"></i><i style="left:7.6px;width:7.6px;height:3.7px;background:#f8c9d4"></i><i style="left:15.2px;width:7.6px;height:6.2px;background:#fabac9"></i><i style="left:22.8px;width:7.6px;height:2.7px;background:#f7cdd6"></i><i style="left:30.4px;width:7.6px;height:2.7px;background:#f7cdd6"></i><i style="left:38.0px;width:7.6px;height:3.2px;background:#f7cbd5"></i><i style="left:45.6px;width:7.6px;height:3.2px;background:#f7cbd5"></i><i style="left:53.2px;width:7.6px;height:3.7px;background:#f8c9d4"></i><i style="left:60.8px;width:7.6px;height:4.2px;background:#f8c8d2"></i><i style="left:68.4px;width:7.6px;height:3.7px;background:#f8c9d4"></i></div>
<div class="sep" style="left:1px;top:1351.45px;width:341px"></div>
<div class="sep" style="left:722px;top:1351.45px;width:77px"></div>
<div class="cell idx" style="left:1px;top:1352.45px;width:49px">54</div>
<div class="cell name" style="left:50px;top:1352.45px;width:178px"><span class="c">意大利</span>02 <span class="c">高级专线</span> 1x</div>
<div class="cell type" style="left:228px;top:1352.45px;width:111px">Shadowsocks</div>
<div class="cell k" style="left:342px;top:1352.45px;width:72px;background:#4acc98;color:#0f3823">211ms</div>
<div class="cell k" style="left:416px;top:1352.45px;width:92.5px;background:#1aa270;color:#0f3823">650ms</div>
<div class="cell k" style="left:510.5px;top:1352.45px;width:103.25px;background:#f7ced7;color:#3e1a27">82.96Mbps</div>
<div class="cell k" style="left:616px;top:1352.45px;width:104.5px;background:#f9c3cf;color:#431828">173.65Mbps</div>
<div class="spark" style="left:722px;top:1352.45px;width:77px"><i style="left:7.6px;width:7.6px;height:4.3px;background:#f8c7d2"></i><i style="left:15.2px;width:7.6px;height:8.3px;background:#fca5ba"></i><i style="left:22.8px;width:7.6px;height:4.3px;background:#f8c7d2"></i><i style="left:30.4px;width:7.6px;height:1.5px;background:#f7d2da"></i><i style="left:38.0px;width:7.6px;height:1.5px;background:#f7d2da"></i><i style="left:45.6px;width:7.6px;height:1.5px;background:#f7d2da"></i><i style="left:53.2px;width:7.6px;height:4.3px;background:#f8c7d2"></i><i style="left:60.8px;width:7.6px;height:3.8px;background:#f8c9d3"></i><i style="left:68.4px;width:7.6px;height:1.5px;background:#f7d2da"></i></div>
<div class="sep" style="left:1px;top:1376.02px;width:341px"></div>
<div class="sep" style="left:722px;top:1376.02px;width:77px"></div>
<div class="cell idx" style="left:1px;top:1377.02px;width:49px">55</div>
<div class="cell name" style="left:50px;top:1377.02px;width:178px"><span class="c">俄罗斯</span>01 <span class="c">高级专线</span> 1x</div>
<div class="cell type" style="left:228px;top:1377.02px;width:111px">Shadowsocks</div>
<div class="cell k" style="left:342px;top:1377.02px;width:72px;background:#3dc691;color:#0f3823">284ms</div>
<div class="cell k" style="left:416px;top:1377.02px;width:92.5px;background:#169e6c;color:#0f3823">855ms</div>
<div class="cell k" style="left:510.5px;top:1377.02px;width:103.25px;background:#fba8bc;color:#4f142a">265.42Mbps</div>
<div class="cell k" style="left:616px;top:1377.02px;width:104.5px;background:#fe8fa9;color:#5a0f2c">348.87Mbps</div>
<div class="spark" style="left:722px;top:1377.02px;width:77px"><i style="left:7.6px;width:7.6px;height:9.8px;background:#fd95ae"></i><i style="left:15.2px;width:7.6px;height:14.8px;background:#ff80a0"></i><i style="left:22.8px;width:7.6px;height:13.8px;background:#ff82a1"></i><i style="left:30.4px;width:7.6px;height:16.8px;background:#ff7b9d"></i><i style="left:38.0px;width:7.6px;height:16.8px;background:#ff7b9d"></i><i style="left:45.6px;width:7.6px;height:17.8px;background:#ff799b"></i><i style="left:53.2px;width:7.6px;height:18.3px;background:#ff789b"></i><i style="left:60.8px;width:7.6px;height:13.8px;background:#ff82a1"></i><i style="left:68.4px;width:7.6px;height:14.8px;background:#ff80a0"></i></div>
<div class="sep" style="left:1px;top:1400.59px;width:341px"></div>
<div class="sep" style="left:722px;top:1400.59px;width:77px"></div>
<div class="cell idx" style="left:1px;top:1401.59px;width:49px">56</div>
<div class="cell name" style="left:50px;top:1401.59px;width:178px"><span class="c">土耳其</span>01 <span class="c">高级专线</span> 1x</div>
<div class="cell type" style="left:228px;top:1401.59px;width:111px">Shadowsocks</div>
<div class="cell k" style="left:342px;top:1401.59px;width:72px;background:#3fc792;color:#0f3823">266ms</div>
<div class="cell k" style="left:416px;top:1401.59px;width:92.5px;background:#179e6c;color:#0f3823">835ms</div>
<div class="cell k" style="left:510.5px;top:1401.59px;width:103.25px;background:#f9c1cd;color:#441828">181.87Mbps</div>
<div class="cell k" style="left:616px;top:1401.59px;width:104.5px;background:#fab8c7;color:#481629">211.75Mbps</div>
<div class="spark" style="left:722px;top:1401.59px;width:77px"><i style="left:7.6px;width:7.6px;height:7.9px;background:#fbaabd"></i><i style="left:15.2px;width:7.6px;height:9.9px;background:#fe94ad"></i><i style="left:22.8px;width:7.6px;height:9.9px;background:#fe94ad"></i><i style="left:30.4px;width:7.6px;height:9.9px;background:#fe94ad"></i><i style="left:38.0px;width:7.6px;height:9.9px;background:#fe94ad"></i><i style="left:45.6px;width:7.6px;height:9.9px;background:#fe94ad"></i><i style="left:53.2px;width:7.6px;height:9.9px;background:#fe94ad"></i><i style="left:60.8px;width:7.6px;height:9.9px;background:#fe94ad"></i><i style="left:68.4px;width:7.6px;height:9.9px;background:#fe94ad"></i></div>
<div class="sep" style="left:1px;top:1425.15px;width:341px"></div>
<div class="sep" style="left:722px;top:1425.15px;width:77px"></div>
<div class="cell idx" style="left:1px;top:1426.15px;width:49px">57</div>
<div class="cell name" style="left:50px;top:1426.15px;width:178px"><span class="c">埃及</span>01 <span class="c">高级专线</span> 1x</div>
<div class="cell type" style="left:228px;top:1426.15px;width:111px">Shadowsocks</div>
<div class="cell k" style="left:342px;top:1426.15px;width:72px;background:#3bc590;color:#0f3823">296ms</div>
<div class="cell k" style="left:416px;top:1426.15px;width:92.5px;background:#169d6b;color:#0f3823">916ms</div>
<div class="cell k" style="left:510.5px;top:1426.15px;width:103.25px;background:#f9e5e9;color:#2a2a2a">14.19Mbps</div>
<div class="cell k" style="left:616px;top:1426.15px;width:104.5px;background:#f9e1e6;color:#3a1c26">21.20Mbps</div>
<div class="spark" style="left:722px;top:1426.15px;width:77px"><i style="left:0.0px;width:7.6px;height:0.5px;background:#f9e4e8"></i><i style="left:7.6px;width:7.6px;height:0.5px;background:#f9e4e8"></i><i style="left:15.2px;width:7.6px;height:0.5px;background:#f9e4e8"></i><i style="left:22.8px;width:7.6px;height:0.5px;background:#f9e4e8"></i><i style="left:30.4px;width:7.6px;height:0.5px;background:#f9e4e8"></i><i style="left:38.0px;width:7.6px;height:0.5px;background:#f9e4e8"></i><i style="left:45.6px;width:7.6px;height:0.5px;background:#f9e4e8"></i><i style="left:53.2px;width:7.6px;height:0.5px;background:#f9e4e8"></i><i style="left:60.8px;width:7.6px;height:0.5px;background:#f9e4e8"></i><i style="left:68.4px;width:7.6px;height:0.5px;background:#f9e4e8"></i></div>
<div class="sep" style="left:1px;top:1449.72px;width:341px"></div>
<div class="sep" style="left:722px;top:1449.72px;width:77px"></div>
<div class="cell idx" style="left:1px;top:1450.72px;width:49px">58</div>
<div class="cell name" style="left:50px;top:1450.72px;width:178px"><span class="c">南非</span>01 <span class="c">高级专线</span> 1x</div>
<div class="cell type" style="left:228px;top:1450.72px;width:111px">Shadowsocks</div>
<div class="cell k" style="left:342px;top:1450.72px;width:72px;background:#3cc590;color:#0f3823">293ms</div>
<div class="cell k" style="left:416px;top:1450.72px;width:92.5px;background:#159b6a;color:#0f3823">1041ms</div>
<div class="cell k" style="left:510.5px;top:1450.72px;width:103.25px;background:#fe8da8;color:#5b0f2d">364.80Mbps</div>
<div class="cell k" style="left:616px;top:1450.72px;width:104.5px;background:#ff789b;color:#620c2e">614.75Mbps</div>
<div class="spark" style="left:722px;top:1450.72px;width:77px"><i style="left:7.6px;width:7.6px;height:5.5px;background:#f9c1ce"></i><i style="left:15.2px;width:7.6px;height:15.0px;background:#ff7f9f"></i><i style="left:22.8px;width:7.6px;height:21.5px;background:#ff769a"></i><i style="left:30.4px;width:7.6px;height:20.0px;background:#ff779a"></i><i style="left:38.0px;width:7.6px;height:15.5px;background:#ff7e9f"></i><i style="left:45.6px;width:7.6px;height:15.5px;background:#ff7e9f"></i><i style="left:53.2px;width:7.6px;height:11.0px;background:#fe8da8"></i><i style="left:60.8px;width:7.6px;height:11.0px;background:#fe8da8"></i><i style="left:68.4px;width:7.6px;height:6.0px;background:#fabcca"></i></div>
<div class="wm" style="left:243px;top:37.0px">TG@jienguhang</div>
<div class="wm" style="left:243px;top:169.0px">TG@jienguhang</div>
<div class="wm" style="left:243px;top:301.0px">TG@jienguhang</div>
<div class="wm" style="left:243px;top:433.0px">TG@jienguhang</div>
<div class="wm" style="left:243px;top:565.0px">TG@jienguhang</div>
<div class="wm" style="left:243px;top:697.0px">TG@jienguhang</div>
<div class="wm" style="left:243px;top:829.0px">TG@jienguhang</div>
<div class="wm" style="left:243px;top:961.0px">TG@jienguhang</div>
<div class="wm" style="left:243px;top:1093.0px">TG@jienguhang</div>
<div class="wm" style="left:243px;top:1225.0px">TG@jienguhang</div>
<div class="wm" style="left:243px;top:1357.0px">TG@jienguhang</div>
<div style="position:absolute;left:361px;top:597px;font-size:33px;line-height:36px;letter-spacing:1px;font-weight:bold;color:rgba(255,255,255,.33);white-space:nowrap">润士分享</div>
<div class="foot">
<span class="chk"><svg width="12" height="12" viewBox="0 0 12 12"><path d="M2.3 6.6 L4.6 9.3 L9.6 2.3" fill="none" stroke="#d8ffc8" stroke-width="2"/></svg></span>
<div style="top:1px;left:27px;letter-spacing:-0.12px"><span class="c">已核实</span> TLS <span class="c">证书。</span>TLS RTT <span class="c">为单次数据交换延迟，</span> HTTPS Ping <span class="c">为单次请求体感延迟。</span></div>
<div style="top:26px;letter-spacing:0.22px"><span class="c">主端</span>=4.3.3 (696) <span class="c">喵速</span>=4.3.3 (<span class="box"></span>A<span class="c">组</span>-<span class="c">深圳电信</span>[1000M]), <span class="c">线程</span>=8 <span class="c">概要</span>=58/58 <span class="c">排序</span>=<span class="c">订阅原序</span> <span class="c">过滤器</span>=</div>
<div style="top:50px;letter-spacing:0.15px"><span class="c">测试时间：</span>2023-04-27 15:49:39 (CST)<span class="c">，本测试为试验性结果，仅供参考。</span></div>
</div>
<div class="b" style="left:0;top:0;width:800px;height:1px"></div>
<div class="b" style="left:0;top:0;width:1px;height:1549px"></div>
<div class="b" style="left:799px;top:0;width:1px;height:1549px"></div>
<div class="b" style="left:0;top:1547.5px;width:800px;height:1.5px"></div>
<div style="position:absolute;left:1px;top:1px;width:1px;height:1546px;background:#fff"></div>
<div style="position:absolute;left:798px;top:1px;width:1px;height:1546px;background:#fff"></div>
</body></html>
